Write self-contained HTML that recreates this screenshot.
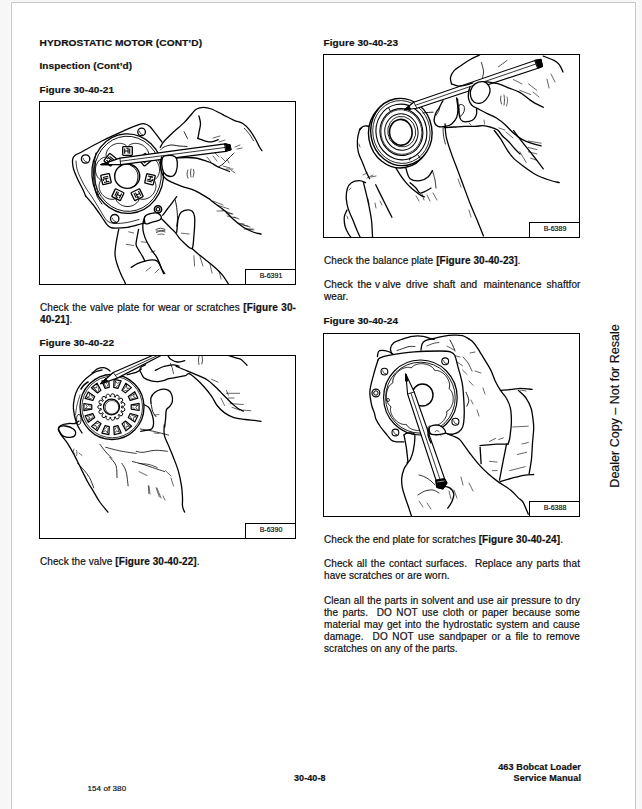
<!DOCTYPE html>
<html><head><meta charset="utf-8">
<style>
html,body{margin:0;padding:0;}
body{width:642px;height:809px;background:#f7f7f7;position:relative;overflow:hidden;font-family:"Liberation Sans",sans-serif;color:#111;-webkit-text-stroke:0.2px #111;}
#page{position:absolute;left:11px;top:2px;width:623px;height:820px;background:#fff;border:1px solid #c9c9c9;box-shadow:-2px 0 0 #fafafa, 3px 0 0 #fafafa;}
.t{position:absolute;white-space:pre;font-size:10px;line-height:12px;letter-spacing:0.085px;}
.b{font-weight:bold;}
.h{transform:scaleY(0.9);transform-origin:0 9.5px;}
.j{text-align:justify;text-align-last:justify;white-space:normal;}
.fig{position:absolute;border:1px solid #000;box-sizing:border-box;background:#fff;}
.lbl{position:absolute;right:-1px;bottom:-1px;width:51px;height:16px;border:1px solid #000;box-sizing:border-box;background:#fff;font-size:7px;line-height:12.5px;text-align:center;padding-left:1px;z-index:2;}
</style></head>
<body>
<div id="page"></div>

<div class="t b h" style="left:39.5px;top:37px;font-size:10.2px;letter-spacing:0.05px;">HYDROSTATIC MOTOR (CONT’D)</div>
<div class="t b h" style="left:39.5px;top:59.5px;">Inspection (Cont’d)</div>
<div class="t b h" style="left:39.5px;top:83.8px;">Figure 30-40-21</div>

<div class="fig" style="left:39px;top:101px;width:257px;height:184px;"><svg width="257" height="184" viewBox="0 0 257 184" style="position:absolute;left:-1px;top:-1px;"><path d="M46.6,95.0 C46.2,94.0 45.3,91.5 44.0,88.8 C42.7,86.0 40.4,81.9 38.8,78.5 C37.2,75.1 35.5,71.2 34.6,68.3 C33.7,65.4 33.6,62.9 33.5,61.0 C33.4,59.1 33.5,58.2 34.0,57.0 C34.5,55.8 35.4,54.8 36.5,54.0 C37.6,53.2 36.2,54.3 40.6,52.0 C45.0,49.7 55.4,43.7 62.8,40.0 C70.2,36.3 78.8,32.5 85.1,29.7 C91.4,26.9 97.1,24.5 100.5,23.4 C103.9,22.3 104.0,22.6 105.7,22.9 C107.4,23.2 109.2,24.1 110.8,25.4 C112.4,26.7 113.5,28.6 115.1,30.6 C116.7,32.6 118.9,35.7 120.2,37.4 C121.5,39.1 122.5,40.4 123.0,41.0" stroke="#000" stroke-width="1.3" fill="none" stroke-linecap="round" stroke-linejoin="round" />
<path d="M46.6,95.0 C47.9,96.5 51.6,100.5 54.3,104.0 C57.0,107.5 60.5,112.7 62.8,116.0 C65.1,119.3 66.6,122.0 68.0,123.7 C69.4,125.4 70.0,125.7 71.4,126.3 C72.8,126.9 73.7,127.1 76.5,127.1 C79.3,127.1 84.2,127.0 88.5,126.3 C92.8,125.6 99.3,123.5 102.2,122.8 C105.1,122.1 105.1,122.1 105.7,122.0" stroke="#000" stroke-width="1.3" fill="none" stroke-linecap="round" stroke-linejoin="round" />
<path d="M37.0,60.0 C37.2,61.3 37.2,65.0 38.0,68.0 C38.8,71.0 40.4,74.7 42.0,78.0 C43.6,81.3 45.7,85.1 47.5,88.0 C49.3,90.9 50.3,91.9 52.6,95.4 C54.9,98.9 58.8,105.4 61.1,109.1 C63.4,112.8 64.8,115.7 66.3,117.7 C67.8,119.7 68.4,120.2 70.0,121.0 C71.6,121.8 73.0,122.4 76.0,122.5 C79.0,122.6 84.0,122.2 88.0,121.5 C92.0,120.8 98.0,119.0 100.0,118.5" stroke="#000" stroke-width="0.8" fill="none" stroke-linecap="round" stroke-linejoin="round" />
<ellipse cx="119.0" cy="108.3" rx="3.6" ry="3.6" stroke="#000" stroke-width="1.6" fill="none" transform="rotate(0 119.0 108.3)"/>
<ellipse cx="119.0" cy="108.3" rx="1.8" ry="1.8" stroke="#000" stroke-width="1.2" fill="none" transform="rotate(0 119.0 108.3)"/>
<ellipse cx="46.6" cy="58.0" rx="4.2" ry="4.2" stroke="#000" stroke-width="1.3" fill="none" transform="rotate(0 46.6 58.0)"/>
<path d="M44.1,57.2 C44.4,57.6 45.1,59.5 45.8,60.1 C46.4,60.7 47.5,60.8 47.9,60.9" stroke="#000" stroke-width="0.7" fill="none" stroke-linecap="round" stroke-linejoin="round" />
<ellipse cx="102.6" cy="30.9" rx="3.8" ry="3.8" stroke="#000" stroke-width="1.3" fill="none" transform="rotate(0 102.6 30.9)"/>
<path d="M100.3,30.1 C100.6,30.6 101.3,32.2 101.8,32.8 C102.4,33.4 103.4,33.4 103.7,33.6" stroke="#000" stroke-width="0.7" fill="none" stroke-linecap="round" stroke-linejoin="round" />
<ellipse cx="75.7" cy="117.7" rx="4.2" ry="4.2" stroke="#000" stroke-width="1.3" fill="none" transform="rotate(0 75.7 117.7)"/>
<path d="M73.2,116.9 C73.5,117.3 74.2,119.2 74.9,119.8 C75.5,120.4 76.6,120.5 77.0,120.6" stroke="#000" stroke-width="0.7" fill="none" stroke-linecap="round" stroke-linejoin="round" />
<ellipse cx="88.7" cy="72.6" rx="35.8" ry="39.8" stroke="#000" stroke-width="1.3" fill="none" transform="rotate(-4 88.7 72.6)"/>
<ellipse cx="88.7" cy="72.8" rx="33.6" ry="37.6" stroke="#000" stroke-width="0.9" fill="none" transform="rotate(-4 88.7 72.8)"/>
<path d="M57.0,52.0 C56.7,53.7 55.6,58.7 55.2,62.0 C54.8,65.3 54.6,68.3 54.6,72.0 C54.6,75.7 54.7,80.2 55.3,84.0 C55.9,87.8 56.7,91.8 58.0,95.0 C59.3,98.2 62.2,101.7 63.0,103.0" stroke="#000" stroke-width="1.0" fill="none" stroke-linecap="round" stroke-linejoin="round" />
<path d="M56.5,60.0 C56.4,62.0 56.0,68.0 56.0,72.0 C56.0,76.0 56.2,80.3 56.8,84.0 C57.4,87.7 59.0,92.3 59.5,94.0" stroke="#000" stroke-width="0.8" fill="none" stroke-linecap="round" stroke-linejoin="round" />
<path d="M119.9,73.0 L119.5,73.9 L119.1,74.8 L118.6,75.7 L118.0,76.6 L117.3,77.3 L116.5,78.1 L115.4,78.7 L115.2,79.5 L115.9,80.6 L116.4,81.6 L116.6,82.6 L116.8,83.6 L116.9,84.6 L116.9,85.6 L116.8,86.6 L116.6,87.6 L116.4,88.5 L116.1,89.5 L115.7,90.4 L115.3,91.2 L114.8,92.1 L114.2,92.9 L113.6,93.6 L112.9,94.4 L112.2,95.0 L111.5,95.6 L110.7,96.2 L109.8,96.7 L109.0,97.1 L108.1,97.5 L107.1,97.8 L106.2,98.1 L105.2,98.2 L104.1,98.3 L103.1,98.3 L102.0,98.1 L100.8,97.6 L100.1,98.0 L99.7,99.2 L99.2,100.2 L98.5,101.0 L97.8,101.8 L97.1,102.4 L96.3,103.0 L95.5,103.6 L94.6,104.1 L93.7,104.5 L92.8,104.8 L91.9,105.1 L90.9,105.3 L90.0,105.4 L89.0,105.5 L88.0,105.5 L87.0,105.4 L86.1,105.3 L85.1,105.1 L84.2,104.8 L83.3,104.5 L82.4,104.1 L81.5,103.6 L80.7,103.0 L79.9,102.4 L79.2,101.8 L78.5,101.0 L77.8,100.2 L77.3,99.2 L76.9,98.0 L76.2,97.6 L75.0,98.1 L73.9,98.3 L72.9,98.3 L71.8,98.2 L70.8,98.1 L69.9,97.8 L68.9,97.5 L68.0,97.1 L67.2,96.7 L66.3,96.2 L65.5,95.6 L64.8,95.0 L64.1,94.4 L63.4,93.6 L62.8,92.9 L62.2,92.1 L61.7,91.2 L61.3,90.4 L60.9,89.5 L60.6,88.5 L60.4,87.6 L60.2,86.6 L60.1,85.6 L60.1,84.6 L60.2,83.6 L60.4,82.6 L60.6,81.6 L61.1,80.6 L61.8,79.5 L61.6,78.7 L60.5,78.1 L59.7,77.3 L59.0,76.6 L58.4,75.7 L57.9,74.8 L57.5,73.9 L57.1,73.0 L56.9,72.1 L56.7,71.1 L56.5,70.1 L56.5,69.1 L56.5,68.2 L56.6,67.2 L56.7,66.2 L56.9,65.3 L57.2,64.4 L57.6,63.5 L58.0,62.6 L58.4,61.7 L59.0,60.9 L59.6,60.1 L60.2,59.4 L60.9,58.7 L61.7,58.1 L62.5,57.5 L63.4,57.0 L64.4,56.6 L65.5,56.3 L66.7,56.2 L67.2,55.5 L67.1,54.3 L67.1,53.2 L67.3,52.1 L67.6,51.1 L68.0,50.2 L68.4,49.3 L68.9,48.5 L69.5,47.7 L70.1,46.9 L70.8,46.2 L71.5,45.6 L72.3,45.0 L73.1,44.4 L74.0,43.9 L74.8,43.5 L75.7,43.2 L76.7,42.9 L77.6,42.6 L78.6,42.5 L79.6,42.4 L80.5,42.4 L81.5,42.4 L82.5,42.5 L83.5,42.7 L84.4,43.0 L85.4,43.4 L86.3,43.9 L87.2,44.6 L88.1,45.5 L88.9,45.5 L89.8,44.6 L90.7,43.9 L91.6,43.4 L92.6,43.0 L93.5,42.7 L94.5,42.5 L95.5,42.4 L96.5,42.4 L97.4,42.4 L98.4,42.5 L99.4,42.6 L100.3,42.9 L101.3,43.2 L102.2,43.5 L103.0,43.9 L103.9,44.4 L104.7,45.0 L105.5,45.6 L106.2,46.2 L106.9,46.9 L107.5,47.7 L108.1,48.5 L108.6,49.3 L109.0,50.2 L109.4,51.1 L109.7,52.1 L109.9,53.2 L109.9,54.3 L109.8,55.5 L110.3,56.2 L111.5,56.3 L112.6,56.6 L113.6,57.0 L114.5,57.5 L115.3,58.1 L116.1,58.7 L116.8,59.4 L117.4,60.1 L118.0,60.9 L118.6,61.7 L119.0,62.6 L119.4,63.5 L119.8,64.4 L120.1,65.3 L120.3,66.2 L120.4,67.2 L120.5,68.2 L120.5,69.1 L120.5,70.1 L120.3,71.1 L120.1,72.1Z" stroke="#000" stroke-width="0.9" fill="none" stroke-linecap="round" stroke-linejoin="round" />
<ellipse cx="88.2" cy="75.2" rx="12.5" ry="12.2" stroke="#000" stroke-width="1.4" fill="none" transform="rotate(0 88.2 75.2)"/>
<path d="M90.0,63.3 C91.1,64.1 95.0,66.0 96.5,68.0 C98.0,70.0 98.9,72.5 99.0,75.0 C99.1,77.5 98.2,81.0 97.0,83.0 C95.8,85.0 92.8,86.5 92.0,87.2" stroke="#000" stroke-width="1.0" fill="none" stroke-linecap="round" stroke-linejoin="round" />
<g transform="translate(88.5,50.0) rotate(0.0)"><rect x="-4.8" y="-4.4" width="9.6" height="8.8" rx="0.8" stroke="#000" stroke-width="1.3" fill="#fff"/><path d="M-2.8,-2.6 L-2.8,2.8 M-1.2,-2.8 L0.6,-2.8 L0.6,2.6 M2.2,-2.6 L2.2,2.8 M-2.8,0 L0.6,0" stroke="#000" stroke-width="1.1" fill="none"/></g>
<g transform="translate(105.8,58.7) rotate(51.4)"><rect x="-4.8" y="-4.4" width="9.6" height="8.8" rx="0.8" stroke="#000" stroke-width="1.3" fill="#fff"/><path d="M-2.8,-2.6 L-2.8,2.8 M-1.2,-2.8 L0.6,-2.8 L0.6,2.6 M2.2,-2.6 L2.2,2.8 M-2.8,0 L0.6,0" stroke="#000" stroke-width="1.1" fill="none"/></g>
<g transform="translate(111.0,78.3) rotate(102.9)"><rect x="-4.8" y="-4.4" width="9.6" height="8.8" rx="0.8" stroke="#000" stroke-width="1.3" fill="#fff"/><path d="M-2.8,-2.6 L-2.8,2.8 M-1.2,-2.8 L0.6,-2.8 L0.6,2.6 M2.2,-2.6 L2.2,2.8 M-2.8,0 L0.6,0" stroke="#000" stroke-width="1.1" fill="none"/></g>
<g transform="translate(98.1,93.7) rotate(154.3)"><rect x="-4.8" y="-4.4" width="9.6" height="8.8" rx="0.8" stroke="#000" stroke-width="1.3" fill="#fff"/><path d="M-2.8,-2.6 L-2.8,2.8 M-1.2,-2.8 L0.6,-2.8 L0.6,2.6 M2.2,-2.6 L2.2,2.8 M-2.8,0 L0.6,0" stroke="#000" stroke-width="1.1" fill="none"/></g>
<g transform="translate(78.9,93.7) rotate(205.7)"><rect x="-4.8" y="-4.4" width="9.6" height="8.8" rx="0.8" stroke="#000" stroke-width="1.3" fill="#fff"/><path d="M-2.8,-2.6 L-2.8,2.8 M-1.2,-2.8 L0.6,-2.8 L0.6,2.6 M2.2,-2.6 L2.2,2.8 M-2.8,0 L0.6,0" stroke="#000" stroke-width="1.1" fill="none"/></g>
<g transform="translate(67.0,78.1) rotate(257.1)"><rect x="-4.8" y="-4.4" width="9.6" height="8.8" rx="0.8" stroke="#000" stroke-width="1.3" fill="#fff"/><path d="M-2.8,-2.6 L-2.8,2.8 M-1.2,-2.8 L0.6,-2.8 L0.6,2.6 M2.2,-2.6 L2.2,2.8 M-2.8,0 L0.6,0" stroke="#000" stroke-width="1.1" fill="none"/></g>
<g transform="translate(71.2,58.7) rotate(308.6)"><rect x="-4.8" y="-4.4" width="9.6" height="8.8" rx="0.8" stroke="#000" stroke-width="1.3" fill="#fff"/><path d="M-2.8,-2.6 L-2.8,2.8 M-1.2,-2.8 L0.6,-2.8 L0.6,2.6 M2.2,-2.6 L2.2,2.8 M-2.8,0 L0.6,0" stroke="#000" stroke-width="1.1" fill="none"/></g>
<path d="M61.9,63.6 L80.9,57.1 L186.0,42.8 L191.0,43.8 L192.0,48.8 L187.0,50.3 L81.6,63.6 L61.9,63.6Z" stroke="#000" stroke-width="1.2" fill="#fff" stroke-linecap="round" stroke-linejoin="round" />
<path d="M80.9,57.1 L81.6,63.6" stroke="#000" stroke-width="0.9" fill="none" stroke-linecap="round" stroke-linejoin="round" />
<path d="M81.6,60.2 L186.0,46.5" stroke="#000" stroke-width="0.8" fill="none" stroke-linecap="round" stroke-linejoin="round" />
<path d="M61.9,63.6 L69.0,61.2 L69.5,63.6Z" stroke="#000" stroke-width="1.2" fill="#000" stroke-linecap="round" stroke-linejoin="round" />
<path d="M186.0,42.8 L191.0,43.8 L192.0,48.8 L187.0,50.3Z" stroke="#000" stroke-width="1" fill="#000" stroke-linecap="round" stroke-linejoin="round" />
<path d="M121.2,46.5 C121.8,45.6 122.5,43.4 124.6,40.9 C126.7,38.4 130.3,35.0 133.7,31.8 C137.1,28.6 141.9,24.8 145.1,21.6 C148.3,18.4 151.0,14.8 153.1,12.5 C155.2,10.2 155.7,9.0 157.6,8.0 C159.5,7.0 161.9,6.4 164.4,6.4 C166.9,6.4 169.2,6.8 172.4,8.0 C175.6,9.2 180.0,11.7 183.8,13.6 C187.6,15.5 191.7,17.8 195.1,19.3 C198.5,20.8 201.5,21.0 204.2,22.7 C206.9,24.4 209.0,26.9 211.1,29.6 C213.2,32.3 215.3,36.1 216.8,38.7 C218.3,41.4 219.2,43.7 220.2,45.5 C221.2,47.3 222.4,48.9 222.9,49.6" stroke="#000" stroke-width="1.3" fill="none" stroke-linecap="round" stroke-linejoin="round" />
<path d="M205.4,27.3 C206.3,28.4 209.6,32.0 211.1,34.1 C212.6,36.2 213.9,38.8 214.5,39.8" stroke="#000" stroke-width="0.8" fill="none" stroke-linecap="round" stroke-linejoin="round" />
<path d="M145.1,30.7 C145.7,31.8 147.9,36.4 148.5,37.5" stroke="#000" stroke-width="0.8" fill="none" stroke-linecap="round" stroke-linejoin="round" />
<path d="M159.9,14.8 C160.2,16.1 161.5,19.9 161.5,22.7 C161.5,25.5 160.3,29.3 159.9,31.8 C159.5,34.3 159.0,36.5 158.8,37.5" stroke="#000" stroke-width="1.3" fill="none" stroke-linecap="round" stroke-linejoin="round" />
<path d="M158.8,37.5 C159.9,37.9 163.3,39.2 165.6,39.8 C167.9,40.4 170.1,41.1 172.4,40.9 C174.7,40.7 178.1,39.1 179.2,38.7" stroke="#000" stroke-width="1.3" fill="none" stroke-linecap="round" stroke-linejoin="round" />
<path d="M121.5,49.0 C122.1,48.5 123.2,46.8 125.0,46.0 C126.8,45.2 129.5,44.2 132.0,44.0 C134.5,43.8 137.3,44.8 140.0,45.0 C142.7,45.2 146.7,45.4 148.0,45.5" stroke="#000" stroke-width="0.9" fill="none" stroke-linecap="round" stroke-linejoin="round" />
<path d="M123.5,56.9 C124.3,54.6 126.0,54.8 128.1,54.6 C130.2,54.4 134.3,54.6 136.0,55.7 C137.7,56.8 138.1,58.9 138.3,61.4 C138.5,63.9 138.0,68.2 137.2,70.5 C136.4,72.8 135.4,74.5 133.7,75.1 C132.0,75.7 128.6,75.1 126.9,73.9 C125.2,72.8 124.1,71.0 123.5,68.2 C122.9,65.4 122.7,59.2 123.5,56.9Z" stroke="#000" stroke-width="1.3" fill="#fff" stroke-linecap="round" stroke-linejoin="round" />
<path d="M122.5,56.0 C122.3,57.2 121.5,60.5 121.5,63.0 C121.5,65.5 121.8,68.7 122.5,71.0 C123.2,73.3 124.5,75.4 126.0,77.0 C127.5,78.6 128.7,79.3 131.5,80.7 C134.3,82.1 138.6,83.8 142.8,85.3 C147.0,86.8 151.9,87.7 156.5,89.8 C161.1,91.9 167.8,96.5 170.1,97.8" stroke="#000" stroke-width="1.3" fill="none" stroke-linecap="round" stroke-linejoin="round" />
<path d="M138.3,57.0 C139.8,56.9 144.0,56.5 147.0,56.5 C150.0,56.5 153.0,56.4 156.5,57.0 C160.0,57.6 165.2,59.5 167.9,60.3 C170.6,61.1 170.5,61.0 172.4,62.0 C174.3,63.0 176.2,64.6 179.2,66.0 C182.2,67.4 188.7,69.8 190.6,70.5" stroke="#000" stroke-width="1.3" fill="none" stroke-linecap="round" stroke-linejoin="round" />
<path d="M179.2,66.0 C180.0,65.5 182.2,64.5 184.0,63.0 C185.8,61.5 188.2,58.8 190.0,57.0 C191.8,55.2 194.2,52.8 195.0,52.0" stroke="#000" stroke-width="0.9" fill="none" stroke-linecap="round" stroke-linejoin="round" />
<path d="M174.0,37.0 L181.0,35.0" stroke="#000" stroke-width="0.6" fill="none" stroke-linecap="round" stroke-linejoin="round" />
<path d="M180.0,41.0 L186.0,39.0" stroke="#000" stroke-width="0.6" fill="none" stroke-linecap="round" stroke-linejoin="round" />
<path d="M196.0,46.0 L201.0,44.0" stroke="#000" stroke-width="0.6" fill="none" stroke-linecap="round" stroke-linejoin="round" />
<path d="M198.0,48.0 L203.0,47.0" stroke="#000" stroke-width="0.6" fill="none" stroke-linecap="round" stroke-linejoin="round" />
<path d="M168.0,56.0 L172.0,61.0" stroke="#000" stroke-width="0.6" fill="none" stroke-linecap="round" stroke-linejoin="round" />
<path d="M174.0,55.0 L178.0,60.0" stroke="#000" stroke-width="0.6" fill="none" stroke-linecap="round" stroke-linejoin="round" />
<path d="M182.0,56.0 L186.0,60.0" stroke="#000" stroke-width="0.6" fill="none" stroke-linecap="round" stroke-linejoin="round" />
<path d="M188.0,58.0 L190.0,62.0" stroke="#000" stroke-width="0.6" fill="none" stroke-linecap="round" stroke-linejoin="round" />
<path d="M184.0,65.0 L191.0,67.0" stroke="#000" stroke-width="0.6" fill="none" stroke-linecap="round" stroke-linejoin="round" />
<path d="M187.0,68.0 L194.0,68.0" stroke="#000" stroke-width="0.6" fill="none" stroke-linecap="round" stroke-linejoin="round" />
<path d="M192.0,69.0 L196.0,72.0" stroke="#000" stroke-width="0.6" fill="none" stroke-linecap="round" stroke-linejoin="round" />
<path d="M176.0,52.0 L180.0,56.0" stroke="#000" stroke-width="0.6" fill="none" stroke-linecap="round" stroke-linejoin="round" />
<path d="M149.0,69.0 C148.8,69.7 148.0,71.7 148.0,73.0 C148.0,74.3 148.8,76.3 149.0,77.0" stroke="#000" stroke-width="0.7" fill="none" stroke-linecap="round" stroke-linejoin="round" />
<path d="M152.0,68.0 C151.9,68.7 151.5,70.7 151.5,72.0 C151.5,73.3 151.9,75.3 152.0,76.0" stroke="#000" stroke-width="0.7" fill="none" stroke-linecap="round" stroke-linejoin="round" />
<path d="M154.5,68.5 C154.6,69.1 155.1,70.8 155.0,72.0 C154.9,73.2 154.2,75.3 154.0,76.0" stroke="#000" stroke-width="0.7" fill="none" stroke-linecap="round" stroke-linejoin="round" />
<path d="M170.1,97.8 C171.4,98.8 175.3,102.0 178.0,104.0 C180.7,106.0 183.3,107.7 186.0,110.0 C188.7,112.3 191.0,115.3 194.0,118.0 C197.0,120.7 200.7,123.8 204.0,126.0 C207.3,128.2 211.0,129.8 214.0,131.0 C217.0,132.2 220.7,132.7 222.0,133.0" stroke="#000" stroke-width="1.3" fill="none" stroke-linecap="round" stroke-linejoin="round" />
<path d="M178.0,110.0 L184.0,110.0" stroke="#000" stroke-width="0.6" fill="none" stroke-linecap="round" stroke-linejoin="round" />
<path d="M187.0,112.0 L193.0,113.0" stroke="#000" stroke-width="0.6" fill="none" stroke-linecap="round" stroke-linejoin="round" />
<path d="M195.0,116.0 L200.0,118.0" stroke="#000" stroke-width="0.6" fill="none" stroke-linecap="round" stroke-linejoin="round" />
<path d="M204.0,124.0 L211.0,126.0" stroke="#000" stroke-width="0.6" fill="none" stroke-linecap="round" stroke-linejoin="round" />
<path d="M208.0,128.0 L215.0,129.0" stroke="#000" stroke-width="0.6" fill="none" stroke-linecap="round" stroke-linejoin="round" />
<path d="M199.0,122.0 L205.0,123.0" stroke="#000" stroke-width="0.6" fill="none" stroke-linecap="round" stroke-linejoin="round" />
<path d="M105.8,115.8 C106.6,114.1 109.2,113.3 111.2,112.7 C113.2,112.1 115.8,111.7 117.5,111.9 C119.2,112.2 120.6,113.3 121.4,114.2 C122.2,115.1 122.6,116.5 122.2,117.4 C121.8,118.3 120.6,119.1 119.0,119.7 C117.4,120.3 114.9,120.8 112.8,121.3 C110.7,121.8 107.8,123.7 106.6,122.8 C105.4,121.9 105.0,117.5 105.8,115.8Z" stroke="#000" stroke-width="1.3" fill="#fff" stroke-linecap="round" stroke-linejoin="round" />
<path d="M105.8,115.8 C105.5,116.7 104.5,118.8 104.2,121.0 C103.9,123.2 103.7,126.4 104.0,129.0 C104.3,131.6 105.0,133.9 105.9,136.4 C106.8,138.9 108.4,141.6 109.6,143.9 C110.8,146.2 112.0,148.3 113.3,150.2 C114.5,152.1 116.0,153.4 117.1,155.1 C118.1,156.8 118.8,158.2 119.6,160.1 C120.4,162.0 121.3,164.3 122.1,166.4 C122.9,168.5 124.2,171.6 124.6,172.6" stroke="#000" stroke-width="1.3" fill="none" stroke-linecap="round" stroke-linejoin="round" />
<path d="M122.2,117.4 C123.0,118.2 125.2,120.5 126.8,122.0 C128.3,123.5 129.9,125.1 131.5,126.7 C133.1,128.3 134.6,129.6 136.2,131.4 C137.8,133.2 139.2,135.8 140.8,137.6 C142.4,139.4 143.9,140.8 145.5,142.3 C147.1,143.8 148.9,145.6 150.2,146.5 C151.5,147.4 152.8,147.5 153.3,147.7" stroke="#000" stroke-width="1.3" fill="none" stroke-linecap="round" stroke-linejoin="round" />
<path d="M153.3,147.7 C154.3,148.6 157.2,151.2 159.5,153.2 C161.8,155.1 164.7,157.3 167.3,159.4 C169.9,161.5 172.5,163.4 175.1,165.7 C177.7,168.0 180.5,170.5 182.9,173.4 C185.3,176.3 188.4,181.4 189.5,183.0" stroke="#000" stroke-width="1.3" fill="none" stroke-linecap="round" stroke-linejoin="round" />
<path d="M137.7,131.4 C138.0,129.1 138.5,120.8 139.3,117.4 C140.1,114.0 140.9,112.5 142.4,111.1 C143.9,109.7 146.8,108.9 148.6,108.8 C150.4,108.7 152.1,109.1 153.3,110.3 C154.5,111.5 155.2,113.3 155.6,115.8 C156.0,118.3 155.7,122.1 155.6,125.2 C155.5,128.3 155.2,131.4 154.9,134.5 C154.7,137.6 154.4,141.6 154.1,143.8 C153.8,146.0 153.4,147.0 153.3,147.7" stroke="#000" stroke-width="1.3" fill="none" stroke-linecap="round" stroke-linejoin="round" />
<path d="M123.7,114.2 C124.5,113.2 126.8,110.1 128.4,108.0 C130.0,105.9 131.6,103.9 133.1,101.8 C134.6,99.7 136.9,96.6 137.7,95.6" stroke="#000" stroke-width="1.3" fill="none" stroke-linecap="round" stroke-linejoin="round" />
<path d="M136.2,98.7 C136.4,100.0 137.3,103.4 137.7,106.5 C138.1,109.6 138.5,114.3 138.5,117.4 C138.5,120.5 137.8,123.9 137.7,125.2" stroke="#000" stroke-width="0.9" fill="none" stroke-linecap="round" stroke-linejoin="round" />
<path d="M117.0,128.5 C117.8,128.3 120.0,127.2 121.5,127.2 C123.0,127.2 125.2,128.3 126.0,128.5" stroke="#000" stroke-width="0.7" fill="none" stroke-linecap="round" stroke-linejoin="round" />
<path d="M117.5,131.5 C118.2,131.2 120.6,130.1 122.0,130.0 C123.4,129.9 125.3,130.8 126.0,131.0" stroke="#000" stroke-width="0.7" fill="none" stroke-linecap="round" stroke-linejoin="round" />
<path d="M119.0,133.5 C119.6,133.4 121.5,133.0 122.5,133.0 C123.5,133.0 124.6,133.4 125.0,133.5" stroke="#000" stroke-width="0.6" fill="none" stroke-linecap="round" stroke-linejoin="round" />
<path d="M142.4,132.2 C143.7,132.3 148.9,132.9 150.2,133.0" stroke="#000" stroke-width="0.6" fill="none" stroke-linecap="round" stroke-linejoin="round" />
<path d="M79.7,128.3 C79.3,130.5 77.8,137.4 77.2,141.4 C76.6,145.4 76.0,149.5 76.0,152.6 C76.0,155.7 76.6,157.6 77.2,160.1 C77.8,162.6 78.9,165.3 79.7,167.6 C80.5,169.9 81.3,171.7 82.2,173.8 C83.1,175.9 84.6,178.6 85.3,180.1 C86.0,181.6 86.3,182.5 86.5,183.0" stroke="#000" stroke-width="1.3" fill="none" stroke-linecap="round" stroke-linejoin="round" />
<path d="M99.6,128.3 C99.3,129.9 98.2,135.1 97.8,137.7 C97.4,140.3 96.8,142.0 97.1,143.9 C97.4,145.8 98.5,147.0 99.6,148.9 C100.6,150.8 102.4,153.2 103.4,155.1 C104.5,157.0 105.5,159.3 105.9,160.1" stroke="#000" stroke-width="1.3" fill="none" stroke-linecap="round" stroke-linejoin="round" />
<path d="M92.2,166.4 C93.2,165.8 96.1,163.7 98.4,162.6 C100.7,161.5 103.4,160.7 105.9,160.1 C108.4,159.5 111.2,158.9 113.3,158.9 C115.4,158.9 117.0,159.3 118.3,160.1 C119.5,160.9 120.0,162.4 120.8,163.9 C121.6,165.4 122.5,167.4 123.3,168.8 C124.1,170.2 125.4,172.0 125.8,172.6" stroke="#000" stroke-width="1.3" fill="none" stroke-linecap="round" stroke-linejoin="round" />
<path d="M89.7,130.8 L94.6,132.0" stroke="#000" stroke-width="0.6" fill="none" stroke-linecap="round" stroke-linejoin="round" />
<path d="M87.2,143.3 L94.6,144.5" stroke="#000" stroke-width="0.6" fill="none" stroke-linecap="round" stroke-linejoin="round" />
<path d="M102.1,140.8 L108.4,141.4" stroke="#000" stroke-width="0.6" fill="none" stroke-linecap="round" stroke-linejoin="round" />
<path d="M117.1,130.0 L125.8,129.4" stroke="#000" stroke-width="0.6" fill="none" stroke-linecap="round" stroke-linejoin="round" />
<path d="M107.0,170.0 L112.0,166.0" stroke="#000" stroke-width="0.6" fill="none" stroke-linecap="round" stroke-linejoin="round" />
<path d="M116.0,172.0 L120.0,168.0" stroke="#000" stroke-width="0.6" fill="none" stroke-linecap="round" stroke-linejoin="round" />
<path d="M154.9,154.7 L155.6,165.0" stroke="#000" stroke-width="0.6" fill="none" stroke-linecap="round" stroke-linejoin="round" />
<path d="M161.0,156.0 L164.0,165.0" stroke="#000" stroke-width="0.6" fill="none" stroke-linecap="round" stroke-linejoin="round" />
<path d="M171.0,163.0 L173.0,172.0" stroke="#000" stroke-width="0.6" fill="none" stroke-linecap="round" stroke-linejoin="round" />
<path d="M180.0,170.0 L182.0,178.0" stroke="#000" stroke-width="0.6" fill="none" stroke-linecap="round" stroke-linejoin="round" />
<path d="M112.0,151.0 L116.0,150.0" stroke="#000" stroke-width="0.6" fill="none" stroke-linecap="round" stroke-linejoin="round" />
<path d="M174.0,100.0 L184.0,104.0" stroke="#000" stroke-width="0.6" fill="none" stroke-linecap="round" stroke-linejoin="round" />
<path d="M178.0,104.0 L190.0,108.0" stroke="#000" stroke-width="0.6" fill="none" stroke-linecap="round" stroke-linejoin="round" />
<path d="M183.0,109.0 L194.0,113.0" stroke="#000" stroke-width="0.6" fill="none" stroke-linecap="round" stroke-linejoin="round" />
<path d="M188.0,115.0 L197.0,117.0" stroke="#000" stroke-width="0.6" fill="none" stroke-linecap="round" stroke-linejoin="round" />
<path d="M201.0,123.0 L209.0,125.0" stroke="#000" stroke-width="0.6" fill="none" stroke-linecap="round" stroke-linejoin="round" />
<path d="M205.0,128.0 L214.0,128.0" stroke="#000" stroke-width="0.6" fill="none" stroke-linecap="round" stroke-linejoin="round" /></svg><div class="lbl">B-6391</div></div>

<div class="t j" style="left:40px;top:302px;width:256px;">Check the valve plate for wear or scratches <b>[Figure 30-</b></div>
<div class="t" style="left:40px;top:314px;"><b>40-21]</b>.</div>

<div class="t b h" style="left:39.5px;top:337.3px;">Figure 30-40-22</div>
<div class="fig" style="left:39px;top:355px;width:257px;height:184px;"><svg width="257" height="184" viewBox="0 0 257 184" style="position:absolute;left:-1px;top:-1px;"><path d="M20.3,72.0 C21.3,71.2 24.0,70.7 26.3,71.0 C28.6,71.3 32.7,72.7 34.4,74.0 C36.1,75.3 36.8,77.7 36.5,79.1 C36.2,80.5 34.4,81.9 32.4,82.2 C30.4,82.5 26.3,82.1 24.3,81.1 C22.3,80.1 21.0,77.6 20.3,76.1 C19.6,74.6 19.3,72.8 20.3,72.0Z" stroke="#000" stroke-width="1.3" fill="none" stroke-linecap="round" stroke-linejoin="round" />
<path d="M22.0,70.5 C21.5,71.1 19.1,72.4 19.2,74.0 C19.2,75.6 20.8,77.7 22.3,80.1 C23.8,82.5 26.4,85.2 28.4,88.2 C30.4,91.2 32.7,95.4 34.4,98.4 C36.1,101.5 37.1,103.8 38.5,106.5 C39.9,109.2 40.8,111.2 42.5,114.6 C44.2,118.0 46.6,123.0 48.6,126.7 C50.6,130.4 52.7,133.4 54.7,136.8 C56.7,140.2 58.4,143.6 60.8,147.0 C63.2,150.4 67.6,155.4 68.9,157.1" stroke="#000" stroke-width="1.3" fill="none" stroke-linecap="round" stroke-linejoin="round" />
<path d="M38.5,108.5 C39.5,109.5 42.6,112.2 44.6,114.6 C46.6,117.0 48.9,119.7 50.6,122.7 C52.3,125.7 54.0,131.1 54.7,132.8" stroke="#000" stroke-width="0.8" fill="none" stroke-linecap="round" stroke-linejoin="round" />
<path d="M20.3,72.0 C20.9,71.6 22.4,70.1 24.0,69.5 C25.6,68.9 28.0,68.7 30.0,68.5 C32.0,68.3 34.3,68.9 36.0,68.5 C37.7,68.1 39.3,66.4 40.0,66.0" stroke="#000" stroke-width="1.3" fill="none" stroke-linecap="round" stroke-linejoin="round" />
<path d="M35.0,94.0 C34.9,94.4 34.4,95.7 34.5,96.5 C34.6,97.3 35.3,98.6 35.5,99.0" stroke="#000" stroke-width="0.6" fill="none" stroke-linecap="round" stroke-linejoin="round" />
<path d="M37.5,95.5 C37.6,95.9 38.0,97.2 38.0,98.0 C38.0,98.8 37.6,100.1 37.5,100.5" stroke="#000" stroke-width="0.6" fill="none" stroke-linecap="round" stroke-linejoin="round" />
<path d="M40.0,98.0 C40.5,98.4 42.5,100.1 43.0,100.5" stroke="#000" stroke-width="0.6" fill="none" stroke-linecap="round" stroke-linejoin="round" />
<path d="M60.8,89.2 C61.7,90.3 64.0,93.6 66.0,96.0 C68.0,98.4 71.8,102.2 72.9,103.4" stroke="#000" stroke-width="0.8" fill="none" stroke-linecap="round" stroke-linejoin="round" />
<path d="M70.9,102.4 C71.9,103.8 75.8,107.1 77.0,110.5 C78.2,113.9 77.8,120.7 78.0,122.7" stroke="#000" stroke-width="0.8" fill="none" stroke-linecap="round" stroke-linejoin="round" />
<path d="M83.0,108.5 C83.7,109.8 86.1,112.9 87.1,116.6 C88.1,120.3 88.8,128.4 89.1,130.8" stroke="#000" stroke-width="0.8" fill="none" stroke-linecap="round" stroke-linejoin="round" />
<path d="M66.8,92.3 C68.2,92.7 72.3,93.8 75.0,94.5 C77.7,95.2 79.3,95.6 83.0,96.3 C86.7,97.0 94.8,98.1 97.2,98.4" stroke="#000" stroke-width="0.8" fill="none" stroke-linecap="round" stroke-linejoin="round" />
<path d="M93.2,106.5 C94.8,106.9 99.6,108.0 103.0,109.0 C106.4,110.0 109.6,111.2 113.4,112.5 C117.2,113.8 123.6,115.9 125.6,116.6" stroke="#000" stroke-width="0.8" fill="none" stroke-linecap="round" stroke-linejoin="round" />
<path d="M97.2,96.3 C98.3,96.5 100.8,97.5 104.0,97.3 C107.2,97.1 112.1,95.5 116.2,95.3 C120.3,95.1 126.4,96.1 128.4,96.3" stroke="#000" stroke-width="0.8" fill="none" stroke-linecap="round" stroke-linejoin="round" />
<path d="M100.0,108.5 C101.7,108.7 107.1,108.8 110.1,109.5 C113.1,110.2 116.8,112.0 118.2,112.5" stroke="#000" stroke-width="0.7" fill="none" stroke-linecap="round" stroke-linejoin="round" />
<path d="M100.0,116.6 L108.0,120.5" stroke="#000" stroke-width="0.6" fill="none" stroke-linecap="round" stroke-linejoin="round" />
<path d="M126.3,115.5 L132.0,121.0" stroke="#000" stroke-width="0.6" fill="none" stroke-linecap="round" stroke-linejoin="round" />
<path d="M132.0,123.0 L134.5,131.0" stroke="#000" stroke-width="0.6" fill="none" stroke-linecap="round" stroke-linejoin="round" />
<path d="M110.0,131.0 L111.0,139.0" stroke="#000" stroke-width="0.6" fill="none" stroke-linecap="round" stroke-linejoin="round" />
<path d="M118.0,133.0 L122.0,143.0" stroke="#000" stroke-width="0.6" fill="none" stroke-linecap="round" stroke-linejoin="round" />
<path d="M124.0,141.0 L126.0,145.0" stroke="#000" stroke-width="0.6" fill="none" stroke-linecap="round" stroke-linejoin="round" />
<path d="M109.3,130.7 L109.8,138.6" stroke="#000" stroke-width="0.6" fill="none" stroke-linecap="round" stroke-linejoin="round" />
<path d="M117.1,132.8 L120.3,141.9" stroke="#000" stroke-width="0.6" fill="none" stroke-linecap="round" stroke-linejoin="round" />
<path d="M125.3,70.0 C125.3,71.7 124.6,76.7 125.3,80.1 C126.0,83.5 127.9,86.6 129.4,90.3 C130.9,94.0 132.7,98.0 134.4,102.4 C136.1,106.8 138.2,111.9 139.5,116.6 C140.8,121.3 141.8,126.4 142.5,130.8 C143.2,135.2 143.3,139.5 143.5,142.9 C143.7,146.3 143.2,148.6 143.5,151.0 C143.8,153.4 145.2,156.1 145.6,157.1" stroke="#000" stroke-width="1.3" fill="none" stroke-linecap="round" stroke-linejoin="round" />
<path d="M112.0,48.0 C112.0,47.1 111.4,44.5 112.0,42.8 C112.6,41.1 113.7,39.1 115.4,37.7 C117.1,36.3 120.0,34.7 122.3,34.3 C124.6,33.9 127.4,34.2 129.1,35.1 C130.8,36.0 131.9,37.5 132.6,39.4 C133.3,41.3 133.7,44.3 133.4,46.3 C133.1,48.3 131.8,50.0 130.8,51.4 C129.8,52.8 128.1,52.8 127.4,54.8 C126.7,56.8 126.9,60.5 126.6,63.4 C126.3,66.3 125.8,70.6 125.7,72.0" stroke="#000" stroke-width="1.3" fill="none" stroke-linecap="round" stroke-linejoin="round" />
<path d="M112.0,48.0 C112.3,49.4 112.9,54.2 113.7,56.5 C114.5,58.8 116.5,60.8 117.1,61.7" stroke="#000" stroke-width="0.9" fill="none" stroke-linecap="round" stroke-linejoin="round" />
<path d="M115.0,60.0 C115.8,59.9 119.2,59.6 120.0,59.5" stroke="#000" stroke-width="0.6" fill="none" stroke-linecap="round" stroke-linejoin="round" />
<path d="M105.1,49.7 C106.0,50.3 108.9,51.1 110.3,53.1 C111.7,55.1 113.0,59.1 113.7,61.7 C114.4,64.3 114.7,66.5 114.6,68.5 C114.5,70.5 114.2,72.5 112.9,73.7 C111.6,74.9 108.8,75.0 106.9,75.4 C105.0,75.8 102.6,76.2 101.7,76.3" stroke="#000" stroke-width="1.3" fill="none" stroke-linecap="round" stroke-linejoin="round" />
<path d="M101.3,74.0 C103.3,74.3 108.7,75.1 113.4,76.1 C118.1,77.1 126.9,79.4 129.6,80.1" stroke="#000" stroke-width="0.8" fill="none" stroke-linecap="round" stroke-linejoin="round" />
<path d="M115.0,78.0 C115.8,78.1 119.2,78.4 120.0,78.5" stroke="#000" stroke-width="0.6" fill="none" stroke-linecap="round" stroke-linejoin="round" />
<path d="M53.0,18.0 C53.4,17.8 54.2,17.2 55.1,16.5 C56.0,15.8 57.0,14.4 58.4,13.8 C59.8,13.2 62.2,12.7 63.8,12.7 C65.4,12.7 67.0,13.2 68.2,13.8 C69.4,14.4 70.5,15.6 71.0,16.0" stroke="#000" stroke-width="1.3" fill="none" stroke-linecap="round" stroke-linejoin="round" />
<path d="M43.0,78.0 C42.1,76.3 38.9,72.1 37.5,68.0 C36.1,63.9 34.7,57.8 34.4,53.6 C34.1,49.4 34.8,46.0 35.5,42.7 C36.2,39.4 37.2,36.7 38.7,34.0 C40.2,31.3 42.0,28.8 44.2,26.4 C46.4,24.0 49.6,21.4 51.8,19.8 C54.0,18.2 55.4,17.3 57.3,16.5 C59.2,15.7 62.0,15.2 63.0,15.0" stroke="#000" stroke-width="1.3" fill="none" stroke-linecap="round" stroke-linejoin="round" />
<path d="M36.5,60.0 C36.8,58.3 37.2,53.3 38.0,50.0 C38.8,46.7 40.5,41.7 41.0,40.0" stroke="#000" stroke-width="0.7" fill="none" stroke-linecap="round" stroke-linejoin="round" />
<path d="M42.0,34.0 C42.5,33.3 43.8,31.2 45.0,30.0 C46.2,28.8 48.3,27.5 49.0,27.0" stroke="#000" stroke-width="1.6" fill="none" stroke-linecap="round" stroke-linejoin="round" />
<ellipse cx="73.0" cy="52.0" rx="32.0" ry="32.5" stroke="#000" stroke-width="1.3" fill="#fff" transform="rotate(0 73.0 52.0)"/>
<ellipse cx="73.2" cy="52.0" rx="30.3" ry="30.8" stroke="#000" stroke-width="0.8" fill="none" transform="rotate(0 73.2 52.0)"/>
<ellipse cx="39.8" cy="64.5" rx="2.2" ry="5.0" stroke="#000" stroke-width="0.9" fill="none" transform="rotate(0 39.8 64.5)"/>
<path d="M66.0,33.3 L62.8,26.0 L69.8,24.3 L70.2,32.3Z" stroke="#000" stroke-width="1.2" fill="none" stroke-linecap="round" stroke-linejoin="round" />
<path d="M66.4,31.6 L64.9,26.8" stroke="#000" stroke-width="0.7" fill="none" stroke-linecap="round" stroke-linejoin="round" />
<path d="M64.6,26.9 L67.7,28.2 L69.0,26.2" stroke="#000" stroke-width="0.7" fill="none" stroke-linecap="round" stroke-linejoin="round" />
<path d="M68.0,31.5 L69.3,28.9" stroke="#000" stroke-width="0.6" fill="none" stroke-linecap="round" stroke-linejoin="round" />
<path d="M74.7,32.3 L75.1,24.3 L82.1,25.9 L79.0,33.3Z" stroke="#000" stroke-width="1.2" fill="none" stroke-linecap="round" stroke-linejoin="round" />
<path d="M75.8,31.0 L76.6,26.0" stroke="#000" stroke-width="0.7" fill="none" stroke-linecap="round" stroke-linejoin="round" />
<path d="M76.3,26.0 L78.5,28.4 L80.5,27.3" stroke="#000" stroke-width="0.7" fill="none" stroke-linecap="round" stroke-linejoin="round" />
<path d="M77.3,31.6 L79.6,29.8" stroke="#000" stroke-width="0.6" fill="none" stroke-linecap="round" stroke-linejoin="round" />
<path d="M83.0,35.2 L86.8,28.2 L92.5,32.6 L86.4,37.9Z" stroke="#000" stroke-width="1.2" fill="none" stroke-linecap="round" stroke-linejoin="round" />
<path d="M84.6,34.5 L87.5,30.4" stroke="#000" stroke-width="0.7" fill="none" stroke-linecap="round" stroke-linejoin="round" />
<path d="M87.2,30.2 L88.1,33.4 L90.4,33.2" stroke="#000" stroke-width="0.7" fill="none" stroke-linecap="round" stroke-linejoin="round" />
<path d="M85.7,35.7 L88.5,35.1" stroke="#000" stroke-width="0.6" fill="none" stroke-linecap="round" stroke-linejoin="round" />
<path d="M89.3,41.5 L95.7,36.7 L98.9,43.2 L91.2,45.4Z" stroke="#000" stroke-width="1.2" fill="none" stroke-linecap="round" stroke-linejoin="round" />
<path d="M91.0,41.5 L95.4,39.0" stroke="#000" stroke-width="0.7" fill="none" stroke-linecap="round" stroke-linejoin="round" />
<path d="M95.2,38.7 L94.6,42.0 L96.8,42.8" stroke="#000" stroke-width="0.7" fill="none" stroke-linecap="round" stroke-linejoin="round" />
<path d="M91.5,43.0 L94.3,43.7" stroke="#000" stroke-width="0.6" fill="none" stroke-linecap="round" stroke-linejoin="round" />
<path d="M92.2,49.8 L100.1,48.3 L100.1,55.5 L92.2,54.1Z" stroke="#000" stroke-width="1.2" fill="none" stroke-linecap="round" stroke-linejoin="round" />
<path d="M93.8,50.5 L98.7,50.2" stroke="#000" stroke-width="0.7" fill="none" stroke-linecap="round" stroke-linejoin="round" />
<path d="M98.7,49.9 L96.8,52.6 L98.4,54.3" stroke="#000" stroke-width="0.7" fill="none" stroke-linecap="round" stroke-linejoin="round" />
<path d="M93.5,52.2 L95.7,54.0" stroke="#000" stroke-width="0.6" fill="none" stroke-linecap="round" stroke-linejoin="round" />
<path d="M91.2,58.5 L98.9,60.6 L95.8,67.1 L89.3,62.5Z" stroke="#000" stroke-width="1.2" fill="none" stroke-linecap="round" stroke-linejoin="round" />
<path d="M92.3,59.9 L96.9,61.8" stroke="#000" stroke-width="0.7" fill="none" stroke-linecap="round" stroke-linejoin="round" />
<path d="M97.0,61.5 L94.1,63.1 L94.8,65.3" stroke="#000" stroke-width="0.7" fill="none" stroke-linecap="round" stroke-linejoin="round" />
<path d="M91.3,61.3 L92.6,63.9" stroke="#000" stroke-width="0.6" fill="none" stroke-linecap="round" stroke-linejoin="round" />
<path d="M86.5,66.0 L92.6,71.3 L86.9,75.8 L83.1,68.7Z" stroke="#000" stroke-width="1.2" fill="none" stroke-linecap="round" stroke-linejoin="round" />
<path d="M86.9,67.7 L90.2,71.4" stroke="#000" stroke-width="0.7" fill="none" stroke-linecap="round" stroke-linejoin="round" />
<path d="M90.5,71.2 L87.2,71.3 L86.9,73.7" stroke="#000" stroke-width="0.7" fill="none" stroke-linecap="round" stroke-linejoin="round" />
<path d="M85.5,68.5 L85.4,71.4" stroke="#000" stroke-width="0.6" fill="none" stroke-linecap="round" stroke-linejoin="round" />
<path d="M79.0,70.7 L82.2,78.0 L75.2,79.7 L74.8,71.7Z" stroke="#000" stroke-width="1.2" fill="none" stroke-linecap="round" stroke-linejoin="round" />
<path d="M78.6,72.4 L80.1,77.2" stroke="#000" stroke-width="0.7" fill="none" stroke-linecap="round" stroke-linejoin="round" />
<path d="M80.4,77.1 L77.3,75.8 L76.0,77.8" stroke="#000" stroke-width="0.7" fill="none" stroke-linecap="round" stroke-linejoin="round" />
<path d="M77.0,72.5 L75.7,75.1" stroke="#000" stroke-width="0.6" fill="none" stroke-linecap="round" stroke-linejoin="round" />
<path d="M70.3,71.7 L69.9,79.7 L62.9,78.1 L66.0,70.7Z" stroke="#000" stroke-width="1.2" fill="none" stroke-linecap="round" stroke-linejoin="round" />
<path d="M69.2,73.0 L68.4,78.0" stroke="#000" stroke-width="0.7" fill="none" stroke-linecap="round" stroke-linejoin="round" />
<path d="M68.7,78.0 L66.5,75.6 L64.5,76.7" stroke="#000" stroke-width="0.7" fill="none" stroke-linecap="round" stroke-linejoin="round" />
<path d="M67.7,72.4 L65.4,74.2" stroke="#000" stroke-width="0.6" fill="none" stroke-linecap="round" stroke-linejoin="round" />
<path d="M62.0,68.8 L58.2,75.8 L52.5,71.4 L58.6,66.1Z" stroke="#000" stroke-width="1.2" fill="none" stroke-linecap="round" stroke-linejoin="round" />
<path d="M60.4,69.5 L57.5,73.6" stroke="#000" stroke-width="0.7" fill="none" stroke-linecap="round" stroke-linejoin="round" />
<path d="M57.8,73.8 L56.9,70.6 L54.6,70.8" stroke="#000" stroke-width="0.7" fill="none" stroke-linecap="round" stroke-linejoin="round" />
<path d="M59.3,68.3 L56.5,68.9" stroke="#000" stroke-width="0.6" fill="none" stroke-linecap="round" stroke-linejoin="round" />
<path d="M55.7,62.5 L49.3,67.3 L46.1,60.8 L53.8,58.6Z" stroke="#000" stroke-width="1.2" fill="none" stroke-linecap="round" stroke-linejoin="round" />
<path d="M54.0,62.5 L49.6,65.0" stroke="#000" stroke-width="0.7" fill="none" stroke-linecap="round" stroke-linejoin="round" />
<path d="M49.8,65.3 L50.4,62.0 L48.2,61.2" stroke="#000" stroke-width="0.7" fill="none" stroke-linecap="round" stroke-linejoin="round" />
<path d="M53.5,61.0 L50.7,60.3" stroke="#000" stroke-width="0.6" fill="none" stroke-linecap="round" stroke-linejoin="round" />
<path d="M52.8,54.2 L44.9,55.7 L44.9,48.5 L52.8,49.9Z" stroke="#000" stroke-width="1.2" fill="none" stroke-linecap="round" stroke-linejoin="round" />
<path d="M51.2,53.5 L46.3,53.8" stroke="#000" stroke-width="0.7" fill="none" stroke-linecap="round" stroke-linejoin="round" />
<path d="M46.3,54.1 L48.2,51.4 L46.6,49.7" stroke="#000" stroke-width="0.7" fill="none" stroke-linecap="round" stroke-linejoin="round" />
<path d="M51.5,51.8 L49.3,50.0" stroke="#000" stroke-width="0.6" fill="none" stroke-linecap="round" stroke-linejoin="round" />
<path d="M53.8,45.5 L46.1,43.4 L49.2,36.9 L55.7,41.5Z" stroke="#000" stroke-width="1.2" fill="none" stroke-linecap="round" stroke-linejoin="round" />
<path d="M52.7,44.1 L48.1,42.2" stroke="#000" stroke-width="0.7" fill="none" stroke-linecap="round" stroke-linejoin="round" />
<path d="M48.0,42.5 L50.9,40.9 L50.2,38.7" stroke="#000" stroke-width="0.7" fill="none" stroke-linecap="round" stroke-linejoin="round" />
<path d="M53.7,42.7 L52.4,40.1" stroke="#000" stroke-width="0.6" fill="none" stroke-linecap="round" stroke-linejoin="round" />
<path d="M58.5,38.0 L52.4,32.7 L58.1,28.2 L61.9,35.3Z" stroke="#000" stroke-width="1.2" fill="none" stroke-linecap="round" stroke-linejoin="round" />
<path d="M58.1,36.3 L54.8,32.6" stroke="#000" stroke-width="0.7" fill="none" stroke-linecap="round" stroke-linejoin="round" />
<path d="M54.5,32.8 L57.8,32.7 L58.1,30.3" stroke="#000" stroke-width="0.7" fill="none" stroke-linecap="round" stroke-linejoin="round" />
<path d="M59.5,35.5 L59.6,32.6" stroke="#000" stroke-width="0.6" fill="none" stroke-linecap="round" stroke-linejoin="round" />
<path d="M83.09,52.85 A1.9,1.9 0 1 1 82.39,55.52 L81.96,57.07 A1.9,1.9 0 1 1 79.98,59.29 L79.19,60.42 A1.9,1.9 0 1 1 76.28,61.79 L75.27,62.31 A1.9,1.9 0 1 1 71.92,62.60 L70.87,62.42 A1.9,1.9 0 1 1 67.67,61.57 L66.75,60.73 A1.9,1.9 0 1 1 64.25,58.90 L63.62,57.53 A1.9,1.9 0 1 1 62.25,55.03 L62.03,53.37 A1.9,1.9 0 1 1 62.03,50.63 L62.25,48.97 A1.9,1.9 0 1 1 63.62,46.47 L64.25,45.10 A1.9,1.9 0 1 1 66.75,43.27 L67.67,42.43 A1.9,1.9 0 1 1 70.87,41.58 L71.92,41.40 A1.9,1.9 0 1 1 75.27,41.69 L76.28,42.21 A1.9,1.9 0 1 1 79.19,43.58 L79.98,44.71 A1.9,1.9 0 1 1 81.96,46.93 L82.39,48.48 A1.9,1.9 0 1 1 83.09,51.15Z" stroke="#000" stroke-width="1.0" fill="none" stroke-linecap="round" stroke-linejoin="round" />
<ellipse cx="72.5" cy="52.0" rx="8.0" ry="7.8" stroke="#000" stroke-width="1.3" fill="none" transform="rotate(0 72.5 52.0)"/>
<ellipse cx="72.9" cy="52.3" rx="6.8" ry="6.8" stroke="#000" stroke-width="0.7" fill="none" transform="rotate(0 72.9 52.3)"/>
<path d="M61.6,28.7 L74.2,17.5 L113.5,0.5 L122.0,0.5 L78.4,23.1Z" stroke="#000" stroke-width="1.2" fill="#fff" stroke-linecap="round" stroke-linejoin="round" />
<path d="M74.2,17.5 L78.4,23.1" stroke="#000" stroke-width="0.8" fill="none" stroke-linecap="round" stroke-linejoin="round" />
<path d="M76.3,20.3 L118.0,0.8" stroke="#000" stroke-width="0.8" fill="none" stroke-linecap="round" stroke-linejoin="round" />
<path d="M61.6,28.7 L66.5,23.5 L68.5,26.0Z" stroke="#000" stroke-width="1.0" fill="#000" stroke-linecap="round" stroke-linejoin="round" />
<path d="M88.2,19.6 C89.0,19.4 91.3,19.0 93.0,18.5 C94.7,18.0 96.5,17.6 98.1,16.8 C99.6,16.1 101.6,14.5 102.3,14.0" stroke="#000" stroke-width="1.3" fill="none" stroke-linecap="round" stroke-linejoin="round" />
<path d="M106.5,9.8 C105.8,10.2 103.2,11.0 102.3,11.9 C101.4,12.8 100.9,14.4 100.9,15.4 C100.9,16.4 101.6,16.9 102.3,18.2 C103.0,19.5 103.5,21.8 105.1,23.1 C106.7,24.4 109.8,25.3 112.1,25.9 C114.4,26.5 116.8,26.7 119.1,26.6 C121.4,26.5 124.5,25.7 126.1,25.2 C127.7,24.7 127.1,24.3 128.9,23.8 C130.7,23.3 135.7,22.6 137.0,22.4" stroke="#000" stroke-width="1.3" fill="none" stroke-linecap="round" stroke-linejoin="round" />
<path d="M116.3,15.4 C117.1,15.0 119.4,13.7 121.0,13.0 C122.6,12.3 123.8,11.7 126.1,11.2 C128.3,10.7 132.2,9.8 134.5,9.8 C136.8,9.8 139.2,11.0 140.1,11.2" stroke="#000" stroke-width="1.3" fill="none" stroke-linecap="round" stroke-linejoin="round" />
<path d="M128.9,0.5 C129.4,1.1 130.1,3.1 131.7,4.2 C133.3,5.3 136.4,6.8 138.7,7.0 C141.0,7.2 144.5,5.8 145.7,5.6" stroke="#000" stroke-width="1.3" fill="none" stroke-linecap="round" stroke-linejoin="round" />
<path d="M131.5,8.5 C131.8,9.4 133.0,12.3 133.5,14.0 C134.0,15.7 134.3,17.8 134.5,18.5" stroke="#000" stroke-width="0.7" fill="none" stroke-linecap="round" stroke-linejoin="round" />
<path d="M137.0,11.2 C138.9,12.0 144.5,14.3 148.2,15.9 C151.9,17.5 156.0,19.1 159.4,20.6 C162.8,22.2 166.0,23.3 168.8,25.2 C171.6,27.1 174.1,29.8 176.3,31.8 C178.5,33.8 180.0,35.5 181.9,37.4 C183.8,39.3 185.6,41.1 187.5,43.0 C189.4,44.9 191.2,46.9 193.1,48.6 C195.0,50.3 196.8,52.0 198.7,53.3 C200.6,54.5 203.4,55.6 204.3,56.1" stroke="#000" stroke-width="1.3" fill="none" stroke-linecap="round" stroke-linejoin="round" />
<path d="M137.0,22.4 C138.6,22.1 144.1,21.2 146.3,20.6 C148.5,20.0 148.2,18.1 150.1,18.7 C152.0,19.3 155.1,22.1 157.6,24.3 C160.1,26.5 162.5,29.0 165.0,31.8 C167.5,34.6 170.3,38.0 172.5,41.1 C174.7,44.2 175.9,47.7 178.1,50.5 C180.3,53.3 182.8,55.9 185.6,57.9 C188.4,59.9 191.5,61.5 194.9,62.6 C198.3,63.7 202.8,64.0 206.2,64.5 C209.6,65.0 212.9,65.1 215.5,65.4 C218.1,65.7 220.9,66.2 222.0,66.4" stroke="#000" stroke-width="1.3" fill="none" stroke-linecap="round" stroke-linejoin="round" />
<path d="M187.5,0.0 C189.1,0.5 194.3,2.0 196.8,2.8 C199.3,3.6 200.5,3.5 202.4,4.7 C204.3,6.0 207.1,9.4 208.0,10.3" stroke="#000" stroke-width="1.3" fill="none" stroke-linecap="round" stroke-linejoin="round" />
<path d="M160.0,1.5 C159.9,2.1 159.4,3.7 159.4,5.0 C159.4,6.3 159.9,8.8 160.0,9.5" stroke="#000" stroke-width="0.7" fill="none" stroke-linecap="round" stroke-linejoin="round" />
<path d="M163.0,1.0 C163.1,1.7 163.5,3.7 163.5,5.0 C163.5,6.3 162.9,8.3 162.8,9.0" stroke="#000" stroke-width="0.7" fill="none" stroke-linecap="round" stroke-linejoin="round" />
<path d="M172.5,24.3 L179.0,27.1" stroke="#000" stroke-width="0.6" fill="none" stroke-linecap="round" stroke-linejoin="round" />
<path d="M187.5,35.5 L189.4,40.2" stroke="#000" stroke-width="0.6" fill="none" stroke-linecap="round" stroke-linejoin="round" />
<path d="M187.5,38.3 L200.6,38.3" stroke="#000" stroke-width="0.6" fill="none" stroke-linecap="round" stroke-linejoin="round" />
<path d="M189.4,43.0 L195.0,43.0" stroke="#000" stroke-width="0.6" fill="none" stroke-linecap="round" stroke-linejoin="round" />
<path d="M191.2,48.6 L204.3,49.5" stroke="#000" stroke-width="0.6" fill="none" stroke-linecap="round" stroke-linejoin="round" />
<path d="M193.0,52.3 L200.6,55.1" stroke="#000" stroke-width="0.6" fill="none" stroke-linecap="round" stroke-linejoin="round" />
<path d="M204.3,55.1 L211.8,55.7" stroke="#000" stroke-width="0.6" fill="none" stroke-linecap="round" stroke-linejoin="round" />
<path d="M181.9,43.0 L185.6,50.5" stroke="#000" stroke-width="0.6" fill="none" stroke-linecap="round" stroke-linejoin="round" /></svg><div class="lbl">B-6390</div></div>

<div class="t" style="left:40px;top:556px;">Check the valve <b>[Figure 30-40-22]</b>.</div>

<div class="t b h" style="left:323.5px;top:36.6px;">Figure 30-40-23</div>
<div class="fig" style="left:323px;top:54px;width:257px;height:184px;"><svg width="257" height="184" viewBox="0 0 257 184" style="position:absolute;left:-1px;top:-1px;"><path d="M38.0,74.0 C37.8,74.3 37.1,74.1 36.5,76.1 C35.9,78.1 34.6,82.5 34.4,86.2 C34.2,89.9 34.5,94.7 35.4,98.4 C36.2,102.1 38.1,105.1 39.5,108.5 C40.9,111.9 42.3,115.9 43.5,118.6 C44.7,121.3 46.1,123.7 46.6,124.7" stroke="#000" stroke-width="1.3" fill="none" stroke-linecap="round" stroke-linejoin="round" />
<path d="M36.5,76.1 C37.1,75.5 38.8,73.2 40.0,72.5 C41.2,71.8 42.8,71.9 44.0,72.0 C45.2,72.1 46.5,72.8 47.0,73.0" stroke="#000" stroke-width="1.3" fill="none" stroke-linecap="round" stroke-linejoin="round" />
<path d="M46.6,73.0 C47.3,74.5 48.9,79.0 50.6,82.2 C52.3,85.4 54.3,88.9 56.7,92.3 C59.1,95.7 62.4,99.4 64.8,102.4 C67.2,105.4 68.9,107.5 70.9,110.5 C72.9,113.5 75.0,117.6 77.0,120.6 C79.0,123.6 81.0,126.3 83.0,128.7 C85.0,131.1 86.7,132.8 89.1,134.8 C91.5,136.8 95.2,139.6 97.2,140.9 C99.2,142.2 100.6,142.6 101.3,142.9" stroke="#000" stroke-width="1.3" fill="none" stroke-linecap="round" stroke-linejoin="round" />
<path d="M42.5,128.7 C41.5,128.4 38.9,126.7 36.5,126.7 C34.1,126.7 30.4,127.3 28.4,128.7 C26.4,130.0 25.1,132.1 24.3,134.8 C23.5,137.5 23.1,141.5 23.3,144.9 C23.5,148.3 24.1,151.4 25.3,155.1 C26.5,158.8 28.9,163.5 30.4,167.2 C31.9,170.9 33.2,174.5 34.4,177.3 C35.6,180.1 37.0,182.9 37.5,184.0" stroke="#000" stroke-width="1.3" fill="none" stroke-linecap="round" stroke-linejoin="round" />
<path d="M24.0,156.0 C23.6,157.2 21.6,160.3 21.3,163.0 C21.0,165.7 21.4,169.3 22.0,172.0 C22.6,174.7 23.9,177.0 25.0,179.0 C26.1,181.0 27.8,183.2 28.4,184.0" stroke="#000" stroke-width="1.3" fill="none" stroke-linecap="round" stroke-linejoin="round" />
<path d="M40.5,128.7 C41.0,130.7 42.5,136.5 43.5,140.9 C44.5,145.3 45.8,150.7 46.6,155.1 C47.5,159.5 48.1,162.4 48.6,167.2 C49.1,172.0 49.4,181.2 49.6,184.0" stroke="#000" stroke-width="1.3" fill="none" stroke-linecap="round" stroke-linejoin="round" />
<path d="M52.7,130.8 C53.7,132.8 56.7,138.9 58.7,142.9 C60.7,146.9 63.1,151.7 64.8,155.1 C66.5,158.5 68.2,161.8 68.9,163.2" stroke="#000" stroke-width="1.3" fill="none" stroke-linecap="round" stroke-linejoin="round" />
<path d="M40.0,121.0 L44.0,119.0" stroke="#000" stroke-width="0.6" fill="none" stroke-linecap="round" stroke-linejoin="round" />
<path d="M44.0,124.0 L50.0,121.0" stroke="#000" stroke-width="0.6" fill="none" stroke-linecap="round" stroke-linejoin="round" />
<path d="M48.0,123.0 L53.0,122.0" stroke="#000" stroke-width="0.6" fill="none" stroke-linecap="round" stroke-linejoin="round" />
<path d="M26.0,136.0 L28.0,134.0" stroke="#000" stroke-width="0.6" fill="none" stroke-linecap="round" stroke-linejoin="round" />
<path d="M36.0,90.0 L37.0,93.0" stroke="#000" stroke-width="0.6" fill="none" stroke-linecap="round" stroke-linejoin="round" />
<path d="M45.0,145.0 L46.0,150.0" stroke="#000" stroke-width="0.6" fill="none" stroke-linecap="round" stroke-linejoin="round" />
<path d="M57.0,147.0 L59.0,151.0" stroke="#000" stroke-width="0.6" fill="none" stroke-linecap="round" stroke-linejoin="round" />
<path d="M52.0,149.0 L53.0,154.0" stroke="#000" stroke-width="0.6" fill="none" stroke-linecap="round" stroke-linejoin="round" />
<path d="M24.0,162.0 L25.0,165.0" stroke="#000" stroke-width="0.6" fill="none" stroke-linecap="round" stroke-linejoin="round" />
<path d="M83.0,114.6 C83.7,116.3 84.7,122.7 87.1,124.7 C89.5,126.7 94.2,127.0 97.2,126.7 C100.2,126.4 103.3,124.4 105.3,122.7 C107.3,121.0 108.7,117.6 109.4,116.6" stroke="#000" stroke-width="1.3" fill="none" stroke-linecap="round" stroke-linejoin="round" />
<path d="M87.1,128.7 C88.1,129.6 91.3,132.3 93.0,134.0 C94.7,135.7 95.3,138.5 97.0,139.0 C98.7,139.5 101.2,137.8 103.0,137.0 C104.8,136.2 107.2,134.5 108.0,134.0" stroke="#000" stroke-width="1.3" fill="none" stroke-linecap="round" stroke-linejoin="round" />
<path d="M109.4,116.6 C109.8,118.2 111.4,123.1 112.0,126.0 C112.6,128.9 112.8,132.7 113.0,134.0" stroke="#000" stroke-width="0.8" fill="none" stroke-linecap="round" stroke-linejoin="round" />
<path d="M99.0,140.0 L101.0,146.0" stroke="#000" stroke-width="0.6" fill="none" stroke-linecap="round" stroke-linejoin="round" />
<path d="M104.0,141.0 L107.0,147.0" stroke="#000" stroke-width="0.6" fill="none" stroke-linecap="round" stroke-linejoin="round" />
<path d="M110.0,139.0 L114.0,146.0" stroke="#000" stroke-width="0.6" fill="none" stroke-linecap="round" stroke-linejoin="round" />
<path d="M93.0,142.0 L96.0,147.0" stroke="#000" stroke-width="0.6" fill="none" stroke-linecap="round" stroke-linejoin="round" />
<path d="M122.1,70.0 C122.3,72.1 122.1,77.8 123.2,82.8 C124.3,87.8 126.5,94.2 128.5,99.9 C130.4,105.6 132.8,111.2 134.9,116.9 C137.0,122.6 139.2,128.3 141.3,134.0 C143.4,139.7 145.6,145.8 147.7,151.1 C149.8,156.4 152.0,160.8 154.1,166.0 C156.2,171.2 159.4,179.3 160.5,182.0" stroke="#000" stroke-width="1.3" fill="none" stroke-linecap="round" stroke-linejoin="round" />
<path d="M135.0,125.0 C135.5,126.3 137.5,131.7 138.0,133.0" stroke="#000" stroke-width="0.6" fill="none" stroke-linecap="round" stroke-linejoin="round" />
<path d="M146.0,156.0 C146.3,157.2 147.7,161.8 148.0,163.0" stroke="#000" stroke-width="0.6" fill="none" stroke-linecap="round" stroke-linejoin="round" />
<ellipse cx="76.4" cy="80.2" rx="30.8" ry="33.8" stroke="#000" stroke-width="1.4" fill="#fff" transform="rotate(-10 76.4 80.2)"/>
<ellipse cx="78.4" cy="78.0" rx="30.6" ry="33.7" stroke="#000" stroke-width="1.4" fill="#fff" transform="rotate(-10 78.4 78.0)"/>
<ellipse cx="78.4" cy="78.0" rx="28.6" ry="31.5" stroke="#000" stroke-width="0.8" fill="none" transform="rotate(-10 78.4 78.0)"/>
<ellipse cx="78.4" cy="78.0" rx="25.4" ry="27.9" stroke="#000" stroke-width="1.1" fill="none" transform="rotate(-10 78.4 78.0)"/>
<ellipse cx="78.4" cy="78.0" rx="21.4" ry="23.5" stroke="#000" stroke-width="1.1" fill="none" transform="rotate(-10 78.4 78.0)"/>
<ellipse cx="78.4" cy="78.0" rx="20.4" ry="22.4" stroke="#000" stroke-width="0.7" fill="none" transform="rotate(-10 78.4 78.0)"/>
<ellipse cx="78.4" cy="78.0" rx="16.6" ry="18.3" stroke="#000" stroke-width="1.0" fill="none" transform="rotate(-10 78.4 78.0)"/>
<ellipse cx="78.7" cy="77.7" rx="13.9" ry="15.3" stroke="#000" stroke-width="0.8" fill="none" transform="rotate(-10 78.7 77.7)"/>
<ellipse cx="77.8" cy="78.3" rx="11.3" ry="12.9" stroke="#000" stroke-width="1.6" fill="none" transform="rotate(-5 77.8 78.3)"/>
<path d="M66.0,54.5 L67.6,57.6" stroke="#000" stroke-width="0.9" fill="none" stroke-linecap="round" stroke-linejoin="round" />
<path d="M95.0,101.0 L97.0,104.0" stroke="#000" stroke-width="0.9" fill="none" stroke-linecap="round" stroke-linejoin="round" />
<path d="M86.5,106.0 L87.2,103.5" stroke="#000" stroke-width="0.9" fill="none" stroke-linecap="round" stroke-linejoin="round" />
<path d="M81.4,55.7 L90.7,48.3 L212.0,6.4 L218.0,5.3 L219.5,12.5 L215.0,14.2 L93.9,54.2Z" stroke="#000" stroke-width="1.1" fill="#fff" stroke-linecap="round" stroke-linejoin="round" />
<path d="M90.7,48.3 L93.9,54.2" stroke="#000" stroke-width="0.8" fill="none" stroke-linecap="round" stroke-linejoin="round" />
<path d="M92.3,51.3 L213.0,10.0" stroke="#000" stroke-width="0.8" fill="none" stroke-linecap="round" stroke-linejoin="round" />
<path d="M81.4,55.7 L86.0,52.0 L87.5,55.0Z" stroke="#000" stroke-width="1.0" fill="#000" stroke-linecap="round" stroke-linejoin="round" />
<path d="M212.0,6.4 L218.0,5.3 L219.5,12.5 L215.0,14.2Z" stroke="#000" stroke-width="1" fill="#000" stroke-linecap="round" stroke-linejoin="round" />
<path d="M128.5,29.9 C128.3,28.8 127.1,25.6 127.5,23.5 C127.9,21.4 128.8,19.2 130.7,17.1 C132.6,15.0 136.4,12.7 139.2,10.7 C142.0,8.7 145.2,6.7 147.7,5.3 C150.2,3.9 152.5,2.9 154.1,2.1 C155.7,1.3 156.8,0.8 157.3,0.5" stroke="#000" stroke-width="1.3" fill="none" stroke-linecap="round" stroke-linejoin="round" />
<path d="M128.5,29.9 C129.6,30.2 132.4,31.8 134.9,32.0 C137.4,32.2 141.0,31.4 143.5,30.9 C146.0,30.4 148.8,29.1 149.9,28.8" stroke="#000" stroke-width="1.3" fill="none" stroke-linecap="round" stroke-linejoin="round" />
<path d="M158.4,8.5 C158.8,9.9 160.3,14.6 160.5,17.1 C160.7,19.6 159.7,22.4 159.5,23.5" stroke="#000" stroke-width="0.8" fill="none" stroke-linecap="round" stroke-linejoin="round" />
<path d="M175.5,12.8 C176.9,11.7 182.6,7.5 184.0,6.4" stroke="#000" stroke-width="0.7" fill="none" stroke-linecap="round" stroke-linejoin="round" />
<path d="M147.7,36.3 C148.4,34.2 149.9,31.3 152.0,29.9 C154.1,28.5 158.2,27.3 160.5,27.7 C162.8,28.1 164.8,30.2 165.9,32.0 C167.0,33.8 167.4,36.1 166.9,38.4 C166.4,40.7 164.3,44.1 162.7,45.9 C161.1,47.7 159.3,48.8 157.3,49.1 C155.3,49.5 152.5,49.1 150.9,48.0 C149.3,46.9 148.2,44.7 147.7,42.7 C147.2,40.8 147.0,38.4 147.7,36.3Z" stroke="#000" stroke-width="1.3" fill="#fff" stroke-linecap="round" stroke-linejoin="round" />
<path d="M147.0,33.0 C146.8,33.8 145.8,36.0 145.6,38.0 C145.4,40.0 145.1,42.6 145.6,44.8 C146.1,47.0 147.0,49.4 148.8,51.2 C150.6,53.0 153.6,54.1 156.3,55.5 C159.0,56.9 162.0,58.4 164.8,59.8 C167.7,61.2 170.6,62.2 173.4,64.0 C176.2,65.8 179.1,67.9 181.9,70.4 C184.7,72.9 187.6,76.5 190.4,79.0 C193.2,81.5 195.8,83.6 199.0,85.4 C202.2,87.2 206.4,88.5 209.6,89.6 C212.8,90.7 216.8,91.4 218.2,91.8" stroke="#000" stroke-width="1.3" fill="none" stroke-linecap="round" stroke-linejoin="round" />
<path d="M162.7,27.7 C164.8,28.1 171.6,28.8 175.5,29.9 C179.4,31.0 182.6,32.7 186.2,34.1 C189.8,35.5 193.6,36.6 196.8,38.4 C200.0,40.2 202.9,43.0 205.4,44.8 C207.9,46.6 209.3,47.7 211.8,49.1 C214.3,50.5 218.9,52.6 220.3,53.3" stroke="#000" stroke-width="1.3" fill="none" stroke-linecap="round" stroke-linejoin="round" />
<path d="M178.0,42.0 C177.9,42.7 177.5,44.7 177.6,46.0 C177.7,47.3 178.3,49.3 178.5,50.0" stroke="#000" stroke-width="0.7" fill="none" stroke-linecap="round" stroke-linejoin="round" />
<path d="M181.0,41.0 C181.1,41.8 181.5,44.3 181.5,46.0 C181.5,47.7 181.1,50.2 181.0,51.0" stroke="#000" stroke-width="0.7" fill="none" stroke-linecap="round" stroke-linejoin="round" />
<path d="M184.0,43.0 C184.1,43.7 184.6,45.5 184.5,47.0 C184.4,48.5 183.7,51.2 183.5,52.0" stroke="#000" stroke-width="0.6" fill="none" stroke-linecap="round" stroke-linejoin="round" />
<path d="M220.3,2.1 C222.1,2.8 228.3,5.0 231.0,6.4 C233.7,7.8 234.8,8.8 236.3,10.7 C237.8,12.6 239.4,16.8 240.0,18.0" stroke="#000" stroke-width="1.3" fill="none" stroke-linecap="round" stroke-linejoin="round" />
<path d="M190.4,25.6 L198.9,29.9" stroke="#000" stroke-width="0.6" fill="none" stroke-linecap="round" stroke-linejoin="round" />
<path d="M196.8,36.3 L207.5,40.5" stroke="#000" stroke-width="0.6" fill="none" stroke-linecap="round" stroke-linejoin="round" />
<path d="M205.4,29.9 L213.9,36.3" stroke="#000" stroke-width="0.6" fill="none" stroke-linecap="round" stroke-linejoin="round" />
<path d="M210.0,38.0 L216.0,43.0" stroke="#000" stroke-width="0.6" fill="none" stroke-linecap="round" stroke-linejoin="round" />
<path d="M228.0,20.0 L232.0,28.0" stroke="#000" stroke-width="0.6" fill="none" stroke-linecap="round" stroke-linejoin="round" />
<path d="M224.0,25.0 L226.0,34.0" stroke="#000" stroke-width="0.6" fill="none" stroke-linecap="round" stroke-linejoin="round" />
<path d="M119.9,46.8 C119.7,47.1 119.3,47.6 118.7,48.7 C118.1,49.9 117.2,51.8 116.2,53.7 C115.2,55.6 113.3,57.6 112.5,59.9 C111.7,62.2 110.8,65.3 111.2,67.4 C111.6,69.5 113.1,71.6 115.0,72.4 C116.9,73.2 120.1,72.8 122.4,72.4 C124.7,72.0 126.8,71.4 128.7,69.9 C130.6,68.4 132.6,66.1 133.6,63.6 C134.6,61.1 134.9,58.2 134.9,54.9 C134.9,51.6 133.8,45.8 133.6,44.0" stroke="#000" stroke-width="1.3" fill="none" stroke-linecap="round" stroke-linejoin="round" />
<path d="M116.8,53.5 C116.6,54.2 116.2,56.2 115.5,57.5 C114.8,58.8 113.2,60.8 112.8,61.5" stroke="#000" stroke-width="0.8" fill="none" stroke-linecap="round" stroke-linejoin="round" />
<path d="M136.1,51.2 C136.5,50.5 137.8,50.4 138.6,50.6 C139.4,50.8 140.7,51.3 141.1,52.4 C141.5,53.5 141.5,55.9 141.1,57.4 C140.7,58.9 139.2,60.4 138.6,61.2 C138.0,62.0 137.8,62.8 137.4,62.4 C137.0,62.0 136.3,60.0 136.1,58.7 C135.9,57.5 136.1,56.1 136.1,54.9 C136.1,53.6 135.7,51.9 136.1,51.2Z" stroke="#000" stroke-width="0.9" fill="none" stroke-linecap="round" stroke-linejoin="round" />
<path d="M134.5,45.0 C134.7,46.6 135.1,51.8 135.5,54.9 C135.9,58.0 136.1,61.5 136.8,63.6 C137.5,65.7 138.4,66.8 139.9,67.4 C141.4,68.0 144.2,67.8 146.1,67.4 C148.0,67.0 149.8,66.2 151.1,64.9 C152.3,63.7 153.2,61.6 153.6,59.9 C154.0,58.2 153.6,55.7 153.6,54.9" stroke="#000" stroke-width="1.3" fill="none" stroke-linecap="round" stroke-linejoin="round" />
<path d="M110.0,58.2 C109.0,58.2 105.7,58.4 104.0,58.5 C102.3,58.6 100.7,58.9 100.0,59.0" stroke="#000" stroke-width="0.9" fill="none" stroke-linecap="round" stroke-linejoin="round" />
<path d="M121.2,73.6 C122.9,73.5 127.9,73.2 131.2,73.0 C134.5,72.8 137.6,72.5 141.1,72.4 C144.6,72.3 149.2,72.5 152.3,72.4 C155.4,72.3 157.3,71.6 159.8,71.7 C162.3,71.8 164.8,72.3 167.3,73.0 C169.8,73.7 172.7,74.5 174.8,76.1 C176.9,77.6 177.9,80.3 179.8,82.3 C181.7,84.3 184.0,85.9 186.0,88.0 C188.0,90.1 190.2,93.0 192.0,95.0 C193.8,97.0 196.2,99.2 197.0,100.0" stroke="#000" stroke-width="1.3" fill="none" stroke-linecap="round" stroke-linejoin="round" />
<path d="M120.0,73.6 C120.1,75.0 120.2,79.6 120.6,82.3 C121.0,85.0 122.1,88.7 122.4,90.0" stroke="#000" stroke-width="0.8" fill="none" stroke-linecap="round" stroke-linejoin="round" />
<path d="M161.0,66.0 C161.1,66.7 161.4,69.3 161.5,70.0" stroke="#000" stroke-width="0.6" fill="none" stroke-linecap="round" stroke-linejoin="round" />
<path d="M146.0,69.0 C146.3,69.3 147.7,70.7 148.0,71.0" stroke="#000" stroke-width="0.6" fill="none" stroke-linecap="round" stroke-linejoin="round" />
<path d="M171.2,76.4 C172.3,77.8 175.5,81.7 177.6,84.9 C179.7,88.1 181.9,92.4 184.0,95.6 C186.1,98.8 187.6,101.2 190.4,104.1 C193.2,106.9 197.2,109.8 201.1,112.7 C205.0,115.6 210.0,119.1 213.9,121.2 C217.8,123.3 220.9,124.2 224.6,125.5 C228.3,126.8 234.4,128.2 236.3,128.7" stroke="#000" stroke-width="1.3" fill="none" stroke-linecap="round" stroke-linejoin="round" />
<path d="M190.4,76.4 C191.5,77.8 194.3,81.7 196.8,84.9 C199.3,88.1 202.6,92.0 205.4,95.6 C208.2,99.2 211.4,103.1 213.9,106.3 C216.4,109.5 219.2,113.4 220.3,114.8" stroke="#000" stroke-width="1.3" fill="none" stroke-linecap="round" stroke-linejoin="round" />
<path d="M205.4,87.0 L218.2,89.2" stroke="#000" stroke-width="0.6" fill="none" stroke-linecap="round" stroke-linejoin="round" />
<path d="M205.4,93.5 L213.9,95.6" stroke="#000" stroke-width="0.6" fill="none" stroke-linecap="round" stroke-linejoin="round" />
<path d="M205.4,97.8 L213.9,99.9" stroke="#000" stroke-width="0.6" fill="none" stroke-linecap="round" stroke-linejoin="round" />
<path d="M207.5,104.1 L213.9,106.3" stroke="#000" stroke-width="0.6" fill="none" stroke-linecap="round" stroke-linejoin="round" />
<path d="M196.8,97.8 L203.2,108.4" stroke="#000" stroke-width="0.6" fill="none" stroke-linecap="round" stroke-linejoin="round" />
<path d="M183.0,78.0 L190.0,84.0" stroke="#000" stroke-width="0.6" fill="none" stroke-linecap="round" stroke-linejoin="round" />
<path d="M176.0,74.0 L182.0,76.0" stroke="#000" stroke-width="0.6" fill="none" stroke-linecap="round" stroke-linejoin="round" /></svg><div class="lbl">B-6389</div></div>

<div class="t" style="left:324px;top:255.2px;">Check the balance plate <b>[Figure 30-40-23]</b>.</div>
<div class="t" style="left:324.0px;top:279.2px;">Check</div><div class="t" style="left:357.6px;top:279.2px;">the</div><div class="t" style="left:374.9px;top:279.2px;">v</div><div class="t" style="left:382.2px;top:279.2px;">alve</div><div class="t" style="left:406.0px;top:279.2px;">drive</div><div class="t" style="left:433.3px;top:279.2px;">shaft</div><div class="t" style="left:460.3px;top:279.2px;">and</div><div class="t" style="left:483.4px;top:279.2px;">maintenance</div><div class="t" style="left:546.5px;top:279.2px;">shaftfor</div>
<div class="t" style="left:324px;top:291.2px;">wear.</div>

<div class="t b h" style="left:323.5px;top:315.3px;">Figure 30-40-24</div>
<div class="fig" style="left:323px;top:333px;width:257px;height:184px;"><svg width="257" height="184" viewBox="0 0 257 184" style="position:absolute;left:-1px;top:-1px;"><path d="M54.4,23.5 C54.6,22.7 54.8,19.5 55.5,18.5 C56.2,17.5 57.2,17.4 58.8,17.4 C60.4,17.4 63.5,17.9 65.3,18.5 C67.1,19.1 69.0,20.3 69.7,20.7" stroke="#000" stroke-width="1.3" fill="none" stroke-linecap="round" stroke-linejoin="round" />
<path d="M68.6,20.5 C68.4,19.6 67.1,17.1 67.5,15.3 C67.9,13.5 69.0,11.3 70.8,9.8 C72.6,8.3 75.3,7.6 78.4,6.5 C81.5,5.4 85.7,3.8 89.3,3.3 C92.9,2.8 97.3,2.9 100.2,3.3 C103.1,3.7 105.0,5.0 106.8,5.5 C108.6,6.0 110.4,6.3 111.1,6.5" stroke="#000" stroke-width="1.3" fill="none" stroke-linecap="round" stroke-linejoin="round" />
<path d="M74.0,17.5 C75.0,17.2 78.0,16.2 80.0,15.5 C82.0,14.8 84.0,13.8 86.0,13.5 C88.0,13.2 91.0,13.5 92.0,13.5" stroke="#000" stroke-width="0.8" fill="none" stroke-linecap="round" stroke-linejoin="round" />
<path d="M98.0,17.0 C98.2,16.0 98.4,12.5 99.1,10.9 C99.8,9.3 100.4,8.5 102.4,7.6 C104.4,6.7 108.2,6.2 111.1,5.5 C114.0,4.8 116.6,3.8 119.9,3.3 C123.2,2.8 127.5,2.3 130.8,2.2 C134.1,2.1 137.0,2.0 139.5,2.6 C142.0,3.2 144.8,5.4 145.8,5.9" stroke="#000" stroke-width="1.3" fill="none" stroke-linecap="round" stroke-linejoin="round" />
<path d="M104.0,13.0 C105.0,12.6 108.0,11.1 110.0,10.5 C112.0,9.9 115.0,9.7 116.0,9.5" stroke="#000" stroke-width="0.7" fill="none" stroke-linecap="round" stroke-linejoin="round" />
<path d="M127.0,7.0 C127.5,8.0 129.2,11.2 130.0,13.0 C130.8,14.8 131.7,17.2 132.0,18.0" stroke="#000" stroke-width="0.9" fill="none" stroke-linecap="round" stroke-linejoin="round" />
<path d="M124.0,13.0 L131.0,17.0" stroke="#000" stroke-width="0.6" fill="none" stroke-linecap="round" stroke-linejoin="round" />
<path d="M128.6,21.8 L137.0,24.0" stroke="#000" stroke-width="0.6" fill="none" stroke-linecap="round" stroke-linejoin="round" />
<path d="M133.0,28.3 L139.5,32.7" stroke="#000" stroke-width="0.6" fill="none" stroke-linecap="round" stroke-linejoin="round" />
<path d="M139.5,37.0 L144.0,41.4" stroke="#000" stroke-width="0.6" fill="none" stroke-linecap="round" stroke-linejoin="round" />
<path d="M146.0,48.0 L150.0,52.3" stroke="#000" stroke-width="0.6" fill="none" stroke-linecap="round" stroke-linejoin="round" />
<path d="M145.8,5.9 C146.5,6.4 148.5,7.4 150.0,9.0 C151.5,10.6 152.8,12.4 154.7,15.3 C156.6,18.2 159.1,22.6 161.3,26.2 C163.5,29.8 166.0,33.5 167.8,37.1 C169.6,40.7 170.6,44.6 172.2,48.0 C173.8,51.4 175.6,54.5 177.5,57.4 C179.4,60.3 181.8,62.3 183.4,65.3 C185.1,68.3 186.6,71.2 187.4,75.2 C188.2,79.2 188.4,84.9 188.4,89.0 C188.4,93.1 187.7,97.2 187.4,100.0 C187.1,102.8 187.0,104.1 186.6,106.0 C186.2,107.9 185.3,110.3 185.0,111.2" stroke="#000" stroke-width="1.3" fill="none" stroke-linecap="round" stroke-linejoin="round" />
<path d="M177.5,57.4 C179.5,57.2 186.0,56.7 189.3,56.4 C192.6,56.1 194.0,55.4 197.3,55.4 C200.6,55.4 207.1,56.2 209.1,56.4" stroke="#000" stroke-width="1.3" fill="none" stroke-linecap="round" stroke-linejoin="round" />
<path d="M195.3,57.4 C196.6,58.7 201.1,62.3 203.2,65.3 C205.3,68.3 206.9,71.6 208.1,75.2 C209.2,78.8 209.7,83.6 210.1,87.0 C210.5,90.4 210.8,91.8 210.7,95.6 C210.6,99.4 209.9,104.8 209.5,110.0 C209.1,115.2 209.0,121.6 208.4,126.7 C207.8,131.8 206.5,138.4 206.1,140.7" stroke="#000" stroke-width="1.3" fill="none" stroke-linecap="round" stroke-linejoin="round" />
<path d="M177.2,148.5 C179.0,148.0 184.3,146.4 188.2,145.4 C192.1,144.4 196.8,143.0 200.6,142.3 C204.3,141.7 209.0,141.6 210.7,141.5" stroke="#000" stroke-width="1.3" fill="none" stroke-linecap="round" stroke-linejoin="round" />
<path d="M157.0,112.7 C159.6,112.5 167.9,111.5 172.6,111.2 C177.3,111.0 182.9,111.2 185.0,111.2" stroke="#000" stroke-width="1.3" fill="none" stroke-linecap="round" stroke-linejoin="round" />
<path d="M183.5,111.2 C183.0,113.8 181.6,120.7 180.4,126.7 C179.2,132.7 177.2,143.6 176.5,147.0" stroke="#000" stroke-width="1.3" fill="none" stroke-linecap="round" stroke-linejoin="round" />
<path d="M157.1,114.4 C157.3,117.1 157.9,127.9 158.1,130.6" stroke="#000" stroke-width="1.3" fill="none" stroke-linecap="round" stroke-linejoin="round" />
<path d="M189.7,94.0 L205.3,93.2" stroke="#000" stroke-width="0.6" fill="none" stroke-linecap="round" stroke-linejoin="round" />
<path d="M199.0,111.0 L205.3,109.5" stroke="#000" stroke-width="0.6" fill="none" stroke-linecap="round" stroke-linejoin="round" />
<path d="M194.4,121.5 L203.7,119.2" stroke="#000" stroke-width="0.6" fill="none" stroke-linecap="round" stroke-linejoin="round" />
<path d="M186.6,137.6 L202.2,133.7" stroke="#000" stroke-width="0.6" fill="none" stroke-linecap="round" stroke-linejoin="round" />
<path d="M166.3,128.3 L174.1,129.1" stroke="#000" stroke-width="0.6" fill="none" stroke-linecap="round" stroke-linejoin="round" />
<path d="M169.4,137.6 L174.1,137.6" stroke="#000" stroke-width="0.6" fill="none" stroke-linecap="round" stroke-linejoin="round" />
<path d="M166.3,108.5 L172.6,105.4" stroke="#000" stroke-width="0.6" fill="none" stroke-linecap="round" stroke-linejoin="round" />
<path d="M175.7,106.5 L180.4,104.9" stroke="#000" stroke-width="0.6" fill="none" stroke-linecap="round" stroke-linejoin="round" />
<path d="M147.0,20.0 L152.0,19.0" stroke="#000" stroke-width="0.6" fill="none" stroke-linecap="round" stroke-linejoin="round" />
<path d="M152.0,38.0 L158.0,40.0" stroke="#000" stroke-width="0.6" fill="none" stroke-linecap="round" stroke-linejoin="round" />
<path d="M160.0,55.0 L162.0,61.0" stroke="#000" stroke-width="0.6" fill="none" stroke-linecap="round" stroke-linejoin="round" />
<path d="M148.0,67.0 L150.0,71.0" stroke="#000" stroke-width="0.6" fill="none" stroke-linecap="round" stroke-linejoin="round" />
<path d="M154.0,77.0 L156.0,83.0" stroke="#000" stroke-width="0.6" fill="none" stroke-linecap="round" stroke-linejoin="round" />
<path d="M197.0,57.0 L203.0,58.0" stroke="#000" stroke-width="0.6" fill="none" stroke-linecap="round" stroke-linejoin="round" />
<path d="M143.0,59.3 C143.5,60.6 145.7,65.0 145.8,67.3 C145.9,69.6 144.1,72.2 143.8,73.2" stroke="#000" stroke-width="0.9" fill="none" stroke-linecap="round" stroke-linejoin="round" />
<path d="M140.0,24.0 C140.8,25.0 143.5,27.7 145.0,30.0 C146.5,32.3 148.3,36.7 149.0,38.0" stroke="#000" stroke-width="0.7" fill="none" stroke-linecap="round" stroke-linejoin="round" />
<path d="M55.0,27.0 C55.4,26.6 55.3,25.6 57.1,24.8 C58.9,24.0 60.0,23.3 65.7,22.3 C71.4,21.3 82.8,19.5 91.4,18.8 C100.0,18.1 111.1,18.0 117.1,18.0 C123.1,18.0 125.0,18.1 127.4,18.8 C129.8,19.5 130.4,19.7 131.7,22.3 C133.0,24.9 133.8,29.4 135.1,34.3 C136.4,39.1 138.4,45.0 139.4,51.4 C140.4,57.8 140.8,66.9 141.1,72.5 C141.4,78.1 141.3,81.4 141.1,84.9 C140.9,88.4 140.6,91.3 139.8,93.6 C139.0,95.9 137.8,97.3 136.1,98.6 C134.4,99.8 131.8,100.7 129.9,101.1 C128.0,101.5 125.7,101.1 124.9,101.1" stroke="#000" stroke-width="1.3" fill="#fff" stroke-linecap="round" stroke-linejoin="round" />
<path d="M55.0,27.0 C54.2,29.6 51.6,37.6 50.3,42.8 C48.9,48.0 47.2,53.4 46.9,58.3 C46.6,63.2 47.9,68.4 48.6,72.0 C49.4,75.6 50.7,77.6 51.4,80.0 C52.1,82.4 52.0,83.9 53.0,86.2 C54.0,88.5 55.8,91.4 57.6,94.0 C59.4,96.6 62.1,99.6 63.9,101.8 C65.7,104.0 67.0,106.1 68.5,107.3 C70.0,108.5 71.1,108.5 73.2,108.8 C75.3,109.0 79.7,108.8 81.0,108.8" stroke="#000" stroke-width="1.3" fill="none" stroke-linecap="round" stroke-linejoin="round" />
<ellipse cx="97.4" cy="64.5" rx="36.8" ry="37.5" stroke="#000" stroke-width="1.2" fill="none" transform="rotate(0 97.4 64.5)"/>
<ellipse cx="97.4" cy="64.7" rx="34.8" ry="35.5" stroke="#000" stroke-width="0.9" fill="none" transform="rotate(0 97.4 64.7)"/>
<path d="M130.2,64.5 L130.2,65.5 L130.2,66.6 L130.1,67.6 L130.0,68.6 L129.8,69.6 L129.5,70.6 L129.2,71.6 L128.8,72.5 L128.4,73.5 L127.9,74.4 L127.3,75.2 L126.7,76.1 L126.0,76.8 L125.2,77.5 L124.1,78.0 L123.7,78.9 L123.8,80.1 L123.7,81.2 L123.5,82.2 L123.2,83.2 L122.8,84.1 L122.3,85.0 L121.8,85.9 L121.2,86.7 L120.6,87.6 L119.9,88.3 L119.1,89.0 L118.4,89.7 L117.6,90.4 L116.7,91.0 L115.8,91.5 L114.9,92.0 L114.0,92.4 L113.0,92.8 L112.1,93.1 L111.1,93.3 L110.0,93.5 L109.0,93.5 L107.9,93.4 L106.8,93.0 L105.9,93.4 L105.2,94.4 L104.3,95.1 L103.4,95.6 L102.5,96.1 L101.5,96.5 L100.6,96.9 L99.6,97.1 L98.5,97.3 L97.5,97.5 L96.5,97.5 L95.4,97.6 L94.4,97.5 L93.3,97.4 L92.3,97.2 L91.3,97.0 L90.3,96.7 L89.3,96.4 L88.4,96.0 L87.4,95.5 L86.5,94.9 L85.7,94.3 L84.9,93.6 L84.2,92.8 L83.6,91.7 L82.7,91.4 L81.5,91.5 L80.4,91.4 L79.4,91.2 L78.3,90.9 L77.4,90.5 L76.4,90.0 L75.5,89.5 L74.6,88.9 L73.8,88.2 L73.0,87.5 L72.2,86.8 L71.5,86.0 L70.8,85.2 L70.2,84.3 L69.6,83.4 L69.1,82.5 L68.7,81.6 L68.3,80.6 L67.9,79.6 L67.7,78.5 L67.5,77.5 L67.4,76.4 L67.5,75.3 L67.9,74.1 L67.5,73.2 L66.5,72.5 L65.8,71.6 L65.2,70.7 L64.8,69.7 L64.4,68.7 L64.0,67.7 L63.8,66.6 L63.6,65.6 L63.4,64.5 L63.4,63.4 L63.4,62.4 L63.4,61.3 L63.6,60.2 L63.7,59.2 L64.0,58.1 L64.3,57.1 L64.7,56.1 L65.1,55.1 L65.6,54.1 L66.2,53.2 L66.8,52.4 L67.6,51.5 L68.4,50.8 L69.5,50.2 L69.9,49.3 L69.8,48.1 L69.9,47.0 L70.2,45.9 L70.5,44.9 L71.0,43.9 L71.5,43.0 L72.0,42.1 L72.7,41.2 L73.4,40.4 L74.1,39.6 L74.9,38.8 L75.7,38.1 L76.5,37.5 L77.4,36.9 L78.3,36.3 L79.3,35.8 L80.3,35.4 L81.3,35.0 L82.3,34.7 L83.4,34.5 L84.5,34.3 L85.5,34.3 L86.7,34.4 L87.9,34.8 L88.8,34.5 L89.5,33.5 L90.4,32.9 L91.4,32.3 L92.3,31.9 L93.3,31.5 L94.4,31.2 L95.4,31.0 L96.4,30.8 L97.5,30.7 L98.6,30.7 L99.6,30.7 L100.7,30.8 L101.7,31.0 L102.8,31.2 L103.8,31.5 L104.8,31.8 L105.8,32.2 L106.8,32.7 L107.7,33.2 L108.6,33.8 L109.4,34.4 L110.2,35.2 L110.9,36.1 L111.4,37.2 L112.3,37.6 L113.5,37.5 L114.6,37.6 L115.6,37.9 L116.6,38.2 L117.5,38.7 L118.4,39.2 L119.3,39.7 L120.2,40.4 L121.0,41.0 L121.7,41.8 L122.4,42.5 L123.1,43.3 L123.7,44.2 L124.3,45.0 L124.8,45.9 L125.3,46.9 L125.7,47.8 L126.0,48.8 L126.3,49.8 L126.5,50.8 L126.6,51.9 L126.7,53.0 L126.5,54.1 L126.1,55.2 L126.5,56.1 L127.4,56.8 L128.0,57.7 L128.6,58.6 L129.0,59.5 L129.4,60.5 L129.7,61.5 L129.9,62.5 L130.1,63.5Z" stroke="#000" stroke-width="0.9" fill="none" stroke-linecap="round" stroke-linejoin="round" />
<ellipse cx="99.5" cy="62.0" rx="10.5" ry="11.0" stroke="#000" stroke-width="1.4" fill="none" transform="rotate(0 99.5 62.0)"/>
<ellipse cx="61.4" cy="38.6" rx="3.4" ry="3.4" stroke="#000" stroke-width="1.1" fill="none" transform="rotate(0 61.4 38.6)"/>
<path d="M59.7,37.6 C59.9,38.0 60.5,39.8 61.1,40.3 C61.6,40.8 62.5,40.6 62.8,40.6" stroke="#000" stroke-width="0.7" fill="none" stroke-linecap="round" stroke-linejoin="round" />
<ellipse cx="122.2" cy="28.3" rx="3.4" ry="3.4" stroke="#000" stroke-width="1.1" fill="none" transform="rotate(0 122.2 28.3)"/>
<path d="M120.5,27.3 C120.7,27.7 121.3,29.5 121.9,30.0 C122.4,30.5 123.3,30.3 123.6,30.3" stroke="#000" stroke-width="0.7" fill="none" stroke-linecap="round" stroke-linejoin="round" />
<ellipse cx="132.4" cy="88.7" rx="3.5" ry="3.5" stroke="#000" stroke-width="1.1" fill="none" transform="rotate(0 132.4 88.7)"/>
<path d="M130.7,87.7 C130.9,88.1 131.5,89.9 132.1,90.5 C132.6,91.0 133.5,90.7 133.8,90.8" stroke="#000" stroke-width="0.7" fill="none" stroke-linecap="round" stroke-linejoin="round" />
<ellipse cx="72.4" cy="99.5" rx="3.4" ry="3.4" stroke="#000" stroke-width="1.1" fill="none" transform="rotate(0 72.4 99.5)"/>
<path d="M70.7,98.5 C70.9,98.9 71.5,100.7 72.1,101.2 C72.6,101.7 73.5,101.5 73.8,101.5" stroke="#000" stroke-width="0.7" fill="none" stroke-linecap="round" stroke-linejoin="round" />
<ellipse cx="52.9" cy="60.0" rx="3.9" ry="3.9" stroke="#000" stroke-width="1.2" fill="none" transform="rotate(0 52.9 60.0)"/>
<ellipse cx="52.9" cy="60.0" rx="2.2" ry="2.2" stroke="#000" stroke-width="1.0" fill="none" transform="rotate(0 52.9 60.0)"/>
<ellipse cx="65.0" cy="67.0" rx="1.5" ry="1.5" stroke="#000" stroke-width="0.8" fill="none" transform="rotate(0 65.0 67.0)"/>
<path d="M82.8,41.1 L91.2,59.0 L121.5,145.5 L124.0,150.0 L120.0,156.0 L114.0,154.5 L113.0,147.0 L84.6,61.0Z" stroke="#000" stroke-width="1.1" fill="#fff" stroke-linecap="round" stroke-linejoin="round" />
<path d="M84.6,61.0 L91.2,59.0" stroke="#000" stroke-width="0.8" fill="none" stroke-linecap="round" stroke-linejoin="round" />
<path d="M87.9,60.0 L117.0,146.5" stroke="#000" stroke-width="0.8" fill="none" stroke-linecap="round" stroke-linejoin="round" />
<path d="M82.8,41.1 L85.0,48.0 L82.8,48.0Z" stroke="#000" stroke-width="1.0" fill="#000" stroke-linecap="round" stroke-linejoin="round" />
<path d="M113.0,147.0 L121.5,145.5 L124.0,150.0 L120.0,156.0 L114.0,154.5Z" stroke="#000" stroke-width="1" fill="#000" stroke-linecap="round" stroke-linejoin="round" />
<path d="M114.5,149.0 L121.0,148.0" stroke-width="0.6" fill="none" stroke-linecap="round" stroke-linejoin="round" stroke="#fff"/>
<path d="M106.2,94.9 C106.6,93.6 108.2,92.8 109.9,92.4 C111.6,92.0 114.3,91.8 116.2,92.4 C118.1,93.0 120.2,94.8 121.2,96.1 C122.2,97.3 122.8,99.1 122.4,99.9 C122.0,100.7 120.6,100.8 118.7,101.1 C116.8,101.4 113.1,101.8 111.2,101.7 C109.3,101.6 108.2,101.6 107.4,100.5 C106.6,99.4 105.8,96.2 106.2,94.9Z" stroke="#000" stroke-width="1.3" fill="#fff" stroke-linecap="round" stroke-linejoin="round" />
<path d="M122.4,99.9 C123.7,100.4 127.6,102.0 129.9,103.0 C132.2,104.0 134.2,104.5 136.1,106.1 C138.0,107.6 139.3,109.9 141.1,112.3 C142.9,114.7 144.7,117.5 147.0,120.5 C149.3,123.5 152.1,127.2 155.1,130.6 C158.1,134.0 161.8,137.8 165.2,140.8 C168.6,143.9 171.6,146.2 175.3,148.9 C179.0,151.6 184.1,154.3 187.5,157.0 C190.9,159.7 193.5,163.1 195.6,165.1 C197.7,167.1 198.4,166.4 200.0,169.1 C201.6,171.8 204.4,179.2 205.3,181.2" stroke="#000" stroke-width="1.3" fill="none" stroke-linecap="round" stroke-linejoin="round" />
<path d="M106.2,95.0 C106.0,95.7 105.1,97.5 105.0,99.0 C104.9,100.5 105.0,102.2 105.5,104.0 C106.0,105.8 107.6,109.0 108.0,110.0" stroke="#000" stroke-width="1.3" fill="none" stroke-linecap="round" stroke-linejoin="round" />
<path d="M112.0,99.0 C112.2,98.8 112.8,97.6 113.5,97.5 C114.2,97.4 115.6,98.3 116.0,98.5" stroke="#000" stroke-width="0.6" fill="none" stroke-linecap="round" stroke-linejoin="round" />
<path d="M113.0,102.5 C113.5,102.3 115.2,101.5 116.0,101.5 C116.8,101.5 117.7,102.3 118.0,102.5" stroke="#000" stroke-width="0.6" fill="none" stroke-linecap="round" stroke-linejoin="round" />
<path d="M81.0,101.8 C81.5,101.5 82.5,100.5 84.1,100.2 C85.6,99.9 89.0,99.7 90.3,100.2 C91.6,100.7 91.9,100.5 91.9,103.4 C91.9,106.3 91.1,113.5 90.3,117.4 C89.5,121.3 88.2,124.6 87.2,126.7 C86.2,128.8 84.6,129.3 84.1,129.8" stroke="#000" stroke-width="1.3" fill="none" stroke-linecap="round" stroke-linejoin="round" />
<path d="M81.0,101.8 C81.4,103.9 82.6,109.9 83.3,114.3 C84.0,118.7 84.6,126.0 84.9,128.3" stroke="#000" stroke-width="1.3" fill="none" stroke-linecap="round" stroke-linejoin="round" />
<path d="M84.9,129.8 C84.2,130.9 82.0,133.5 81.0,136.1 C80.0,138.7 79.0,142.3 78.7,145.4 C78.4,148.5 78.8,151.4 79.4,154.8 C80.1,158.2 81.4,162.1 82.6,165.7 C83.8,169.3 85.4,173.5 86.4,176.6 C87.4,179.7 88.4,182.8 88.8,184.0" stroke="#000" stroke-width="1.3" fill="none" stroke-linecap="round" stroke-linejoin="round" />
<path d="M96.0,142.0 C97.0,142.3 100.0,143.0 102.0,144.0 C104.0,145.0 106.3,146.7 108.0,148.0 C109.7,149.3 111.3,151.3 112.0,152.0" stroke="#000" stroke-width="0.8" fill="none" stroke-linecap="round" stroke-linejoin="round" />
<path d="M118.6,152.9 C119.9,153.2 124.7,153.6 126.7,154.9 C128.7,156.2 130.5,158.6 130.8,161.0 C131.1,163.4 129.7,166.7 128.7,169.1 C127.7,171.5 125.4,174.2 124.7,175.2" stroke="#000" stroke-width="1.3" fill="none" stroke-linecap="round" stroke-linejoin="round" />
<path d="M95.0,162.0 C96.2,161.3 99.5,158.8 102.0,158.0 C104.5,157.2 107.7,156.7 110.0,157.0 C112.3,157.3 115.0,159.5 116.0,160.0" stroke="#000" stroke-width="0.8" fill="none" stroke-linecap="round" stroke-linejoin="round" />
<path d="M126.0,158.0 L128.0,166.0" stroke="#000" stroke-width="0.6" fill="none" stroke-linecap="round" stroke-linejoin="round" />
<path d="M131.0,157.0 L134.0,165.0" stroke="#000" stroke-width="0.6" fill="none" stroke-linecap="round" stroke-linejoin="round" />
<path d="M96.0,168.0 L100.0,174.0" stroke="#000" stroke-width="0.6" fill="none" stroke-linecap="round" stroke-linejoin="round" />
<path d="M104.0,170.0 L108.0,176.0" stroke="#000" stroke-width="0.6" fill="none" stroke-linecap="round" stroke-linejoin="round" />
<path d="M138.0,144.0 L140.0,152.0" stroke="#000" stroke-width="0.6" fill="none" stroke-linecap="round" stroke-linejoin="round" />
<path d="M146.0,150.0 L150.0,158.0" stroke="#000" stroke-width="0.6" fill="none" stroke-linecap="round" stroke-linejoin="round" /></svg><div class="lbl">B-6388</div></div>

<div class="t" style="left:324px;top:534px;">Check the end plate for scratches <b>[Figure 30-40-24]</b>.</div>
<div class="t j" style="left:324px;top:558px;width:256px;">Check all the contact surfaces.&nbsp; Replace any parts that</div>
<div class="t" style="left:324px;top:569.8px;">have scratches or are worn.</div>
<div class="t j" style="left:324px;top:595px;width:256px;">Clean all the parts in solvent and use air pressure to dry</div>
<div class="t j" style="left:324px;top:606.8px;width:256px;">the parts.&nbsp; DO NOT use cloth or paper because some</div>
<div class="t j" style="left:324px;top:618.8px;width:256px;">material may get into the hydrostatic system and cause</div>
<div class="t j" style="left:324px;top:630.8px;width:256px;">damage.&nbsp; DO NOT use sandpaper or a file to remove</div>
<div class="t" style="left:324px;top:643.2px;">scratches on any of the parts.</div>

<div class="t" style="left:614.7px;top:405.5px;font-size:12.5px;line-height:12px;letter-spacing:0;transform:translate(-50%,-50%) rotate(-90deg);">Dealer Copy – Not for Resale</div>

<div class="t b" style="left:294px;top:773px;font-size:9px;line-height:11px;">30-40-8</div>
<div class="t b" style="left:480px;top:762px;width:101px;text-align:right;font-size:9.1px;line-height:11px;">463 Bobcat Loader<br>Service Manual</div>
<div class="t" style="left:87.5px;top:783px;font-size:8px;line-height:11px;">154 of 380</div>

</body></html>
